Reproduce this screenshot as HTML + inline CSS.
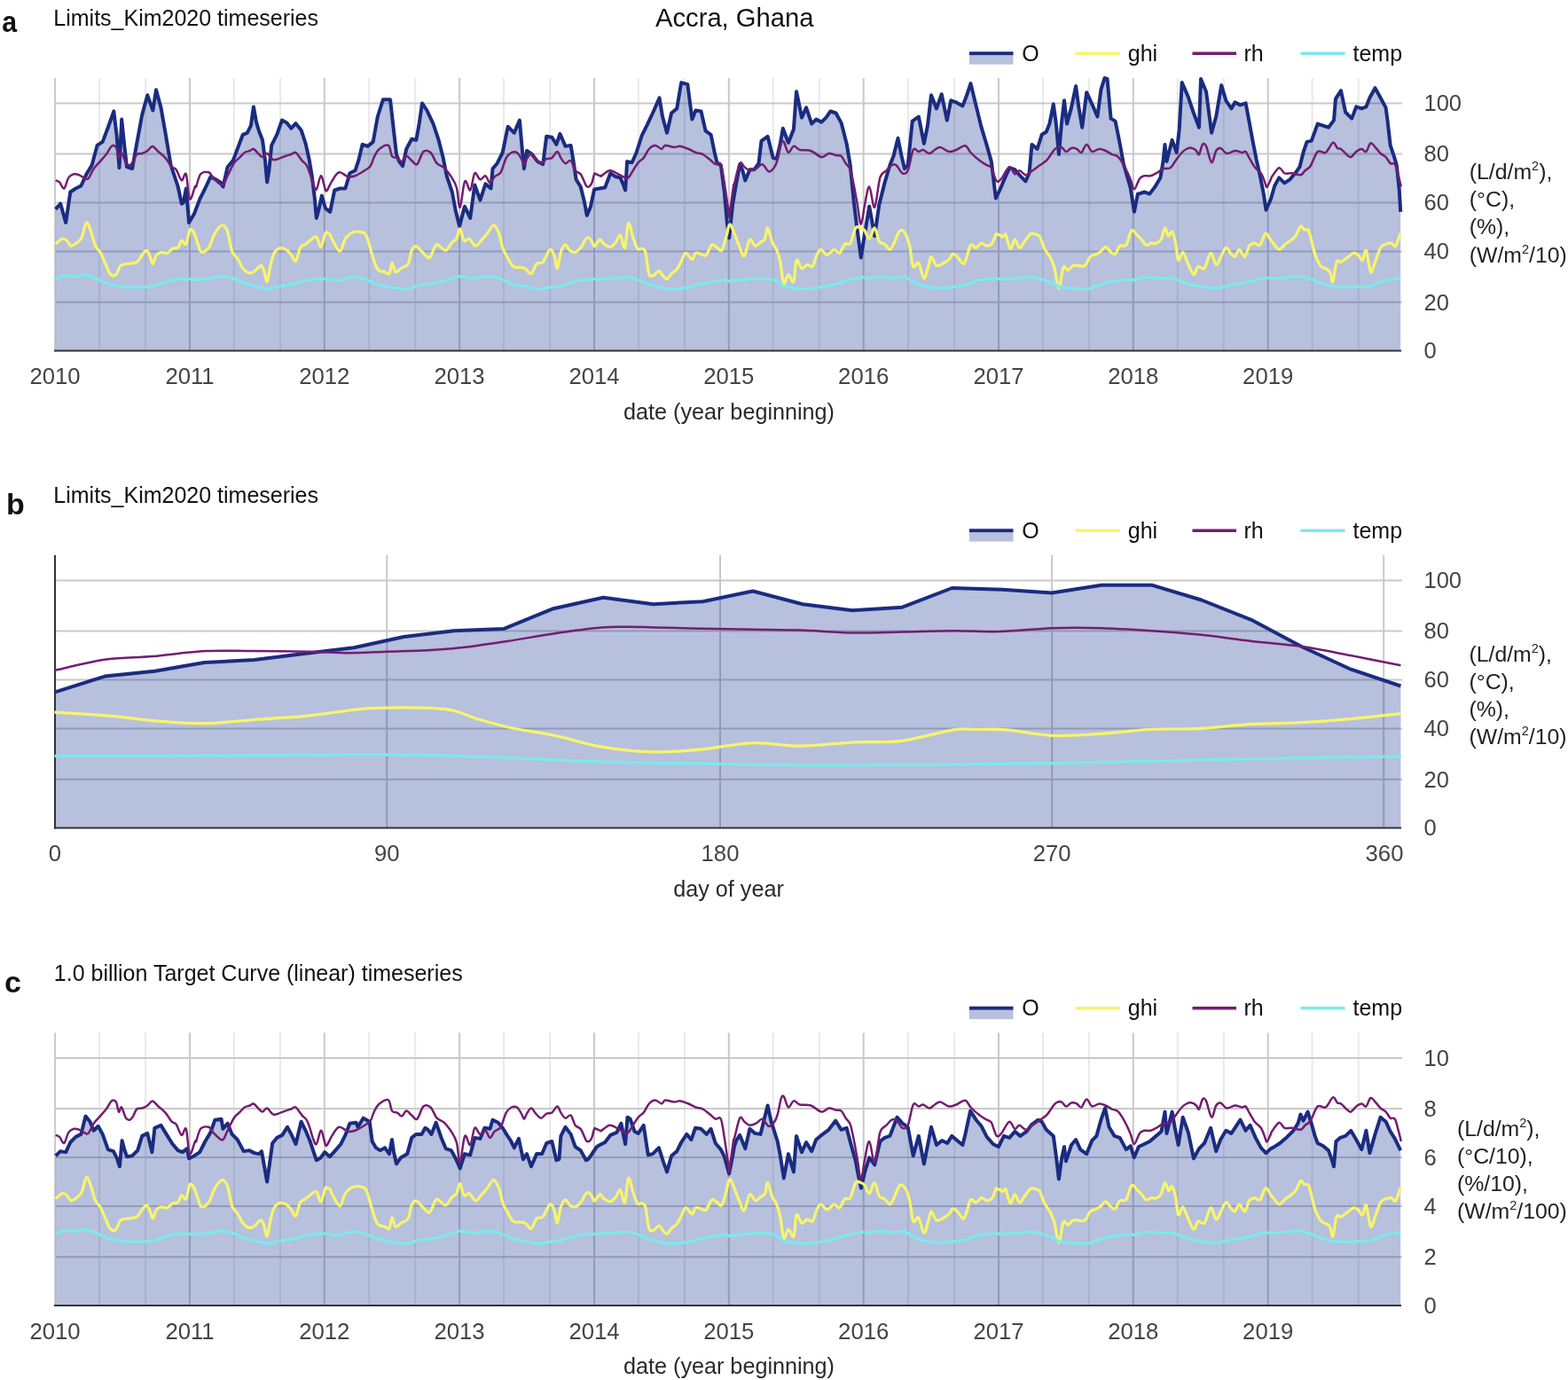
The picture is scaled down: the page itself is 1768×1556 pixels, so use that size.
<!DOCTYPE html>
<html><head><meta charset="utf-8"><title>Accra, Ghana</title>
<style>html,body{margin:0;padding:0;background:#fff;} svg text{font-family:"Liberation Sans", Arial, sans-serif;}</style>
</head><body>
<svg width="1768" height="1556" viewBox="0 0 1768 1556" style="display:block">
<rect width="1768" height="1556" fill="#fff"/>
<text transform="translate(2.3,35.9) scale(0.89,1)" font-size="34" font-weight="bold" fill="#111">a</text>
<text x="60.3" y="29.2" font-size="25" text-anchor="start" fill="#111" font-weight="normal" >Limits_Kim2020 timeseries</text>
<text x="739" y="30" font-size="29.2" text-anchor="start" fill="#111" font-weight="normal" >Accra, Ghana</text>
<rect x="1093" y="62.4" width="49.5" height="10.2" fill="rgb(18,45,140)" fill-opacity="0.3"/>
<line x1="1093" y1="60.3" x2="1142.5" y2="60.3" stroke="#1a2c80" stroke-width="4"/>
<text x="1152.2" y="68.6" font-size="25" text-anchor="start" fill="#111" font-weight="normal" >O</text>
<line x1="1212.5" y1="60.3" x2="1262.5" y2="60.3" stroke="#f7f46c" stroke-width="3.5"/>
<text x="1271.8" y="68.6" font-size="25" text-anchor="start" fill="#111" font-weight="normal" >ghi</text>
<line x1="1344.5" y1="60.3" x2="1394" y2="60.3" stroke="#731d70" stroke-width="3.5"/>
<text x="1402.5" y="68.6" font-size="25" text-anchor="start" fill="#111" font-weight="normal" >rh</text>
<line x1="1466.5" y1="60.3" x2="1516.5" y2="60.3" stroke="#7ce9ee" stroke-width="3.5"/>
<text x="1525.5" y="68.6" font-size="25" text-anchor="start" fill="#111" font-weight="normal" >temp</text>
<line x1="62.1" y1="88" x2="62.1" y2="395.4" stroke="#c9c9c9" stroke-width="2"/>
<line x1="112.0" y1="88" x2="112.0" y2="395.4" stroke="#e9e9e9" stroke-width="2"/>
<line x1="164.1" y1="88" x2="164.1" y2="395.4" stroke="#e9e9e9" stroke-width="2"/>
<line x1="214.0" y1="88" x2="214.0" y2="395.4" stroke="#c9c9c9" stroke-width="2"/>
<line x1="263.9" y1="88" x2="263.9" y2="395.4" stroke="#e9e9e9" stroke-width="2"/>
<line x1="316.0" y1="88" x2="316.0" y2="395.4" stroke="#e9e9e9" stroke-width="2"/>
<line x1="365.8" y1="88" x2="365.8" y2="395.4" stroke="#c9c9c9" stroke-width="2"/>
<line x1="416.2" y1="88" x2="416.2" y2="395.4" stroke="#e9e9e9" stroke-width="2"/>
<line x1="468.2" y1="88" x2="468.2" y2="395.4" stroke="#e9e9e9" stroke-width="2"/>
<line x1="518.1" y1="88" x2="518.1" y2="395.4" stroke="#c9c9c9" stroke-width="2"/>
<line x1="568.0" y1="88" x2="568.0" y2="395.4" stroke="#e9e9e9" stroke-width="2"/>
<line x1="620.1" y1="88" x2="620.1" y2="395.4" stroke="#e9e9e9" stroke-width="2"/>
<line x1="670.0" y1="88" x2="670.0" y2="395.4" stroke="#c9c9c9" stroke-width="2"/>
<line x1="719.9" y1="88" x2="719.9" y2="395.4" stroke="#e9e9e9" stroke-width="2"/>
<line x1="772.0" y1="88" x2="772.0" y2="395.4" stroke="#e9e9e9" stroke-width="2"/>
<line x1="821.8" y1="88" x2="821.8" y2="395.4" stroke="#c9c9c9" stroke-width="2"/>
<line x1="871.8" y1="88" x2="871.8" y2="395.4" stroke="#e9e9e9" stroke-width="2"/>
<line x1="923.8" y1="88" x2="923.8" y2="395.4" stroke="#e9e9e9" stroke-width="2"/>
<line x1="973.7" y1="88" x2="973.7" y2="395.4" stroke="#c9c9c9" stroke-width="2"/>
<line x1="1024.0" y1="88" x2="1024.0" y2="395.4" stroke="#e9e9e9" stroke-width="2"/>
<line x1="1076.1" y1="88" x2="1076.1" y2="395.4" stroke="#e9e9e9" stroke-width="2"/>
<line x1="1126.0" y1="88" x2="1126.0" y2="395.4" stroke="#c9c9c9" stroke-width="2"/>
<line x1="1175.9" y1="88" x2="1175.9" y2="395.4" stroke="#e9e9e9" stroke-width="2"/>
<line x1="1228.0" y1="88" x2="1228.0" y2="395.4" stroke="#e9e9e9" stroke-width="2"/>
<line x1="1277.8" y1="88" x2="1277.8" y2="395.4" stroke="#c9c9c9" stroke-width="2"/>
<line x1="1327.8" y1="88" x2="1327.8" y2="395.4" stroke="#e9e9e9" stroke-width="2"/>
<line x1="1379.8" y1="88" x2="1379.8" y2="395.4" stroke="#e9e9e9" stroke-width="2"/>
<line x1="1429.7" y1="88" x2="1429.7" y2="395.4" stroke="#c9c9c9" stroke-width="2"/>
<line x1="1479.6" y1="88" x2="1479.6" y2="395.4" stroke="#e9e9e9" stroke-width="2"/>
<line x1="1531.7" y1="88" x2="1531.7" y2="395.4" stroke="#e9e9e9" stroke-width="2"/>
<line x1="62.0" y1="340.8" x2="1581" y2="340.8" stroke="#c9c9c9" stroke-width="2"/>
<line x1="62.0" y1="283.4" x2="1581" y2="283.4" stroke="#c9c9c9" stroke-width="2"/>
<line x1="62.0" y1="228.6" x2="1581" y2="228.6" stroke="#c9c9c9" stroke-width="2"/>
<line x1="62.0" y1="173.6" x2="1581" y2="173.6" stroke="#c9c9c9" stroke-width="2"/>
<line x1="62.0" y1="116.5" x2="1581" y2="116.5" stroke="#c9c9c9" stroke-width="2"/>
<path d="M62.7,235.8 L68.2,229.7 L74.2,251.0 L79.3,216.5 L85.4,212.5 L91.4,209.5 L97.5,196.3 L103.6,186.2 L109.6,163.9 L115.7,159.9 L121.8,143.7 L128.3,125.5 L131.5,151.8 L134.5,189.2 L137.2,134.6 L140.0,161.9 L143.0,188.2 L149.1,190.2 L154.2,161.9 L160.2,129.5 L166.3,107.3 L172.4,124.5 L176.0,101.2 L181.5,121.4 L186.5,149.8 L192.6,186.2 L196.7,198.3 L200.7,210.5 L204.8,229.7 L206.8,228.7 L209.8,212.5 L213.1,251.0 L219.1,240.8 L225.2,224.6 L231.3,212.5 L237.4,199.3 L243.4,202.4 L248.5,205.4 L251.5,210.5 L256.6,188.2 L262.7,181.1 L267.7,168.0 L273.8,151.8 L278.8,149.8 L282.9,141.7 L285.9,120.4 L289.0,137.6 L292.0,147.7 L296.0,157.9 L299.1,182.1 L301.1,205.4 L303.1,194.3 L306.2,163.9 L312.2,151.8 L317.9,135.6 L323.4,138.6 L328.4,144.7 L333.5,139.2 L339.6,146.7 L344.6,161.9 L348.7,180.1 L351.7,198.3 L354.7,222.6 L356.8,245.9 L359.8,234.8 L362.8,220.6 L366.9,234.8 L372.2,238.8 L377.2,214.5 L383.3,212.5 L389.4,212.5 L394.4,195.3 L400.5,192.3 L404.5,180.1 L408.6,162.9 L414.7,164.9 L420.7,159.9 L425.8,131.5 L431.9,112.3 L440.0,112.3 L444.0,147.7 L447.0,174.0 L450.1,182.1 L454.1,187.2 L458.2,168.0 L464.2,156.8 L469.3,157.9 L472.3,141.7 L476.0,116.4 L481.4,124.5 L488.5,139.6 L494.6,157.9 L499.7,178.1 L503.7,198.3 L509.8,216.5 L514.0,238.8 L518.1,255.0 L523.9,232.7 L530.2,245.9 L535.3,208.5 L541.4,225.7 L547.4,207.4 L553.5,212.5 L555.5,190.2 L560.6,184.2 L566.7,172.0 L572.7,142.7 L579.8,149.8 L585.9,135.6 L588.9,170.0 L590.9,190.2 L594.0,170.0 L600.0,174.0 L606.1,182.1 L612.2,185.2 L616.2,153.8 L622.3,154.8 L627.4,162.9 L631.4,150.8 L637.5,164.9 L643.6,163.9 L646.6,182.1 L649.6,202.4 L654.7,210.5 L658.7,226.7 L661.8,242.9 L666.0,232.7 L670.1,213.5 L675.9,212.5 L682.2,211.5 L688.3,195.3 L694.4,199.3 L699.4,200.4 L702.5,207.4 L705.1,214.5 L707.1,182.1 L712.6,183.2 L717.6,172.0 L723.7,152.8 L729.8,140.7 L736.9,125.5 L743.5,110.3 L747.0,131.5 L752.0,149.8 L757.1,127.5 L763.2,122.4 L768.2,93.1 L775.3,95.1 L780.4,134.6 L784.4,124.5 L790.5,125.5 L795.6,147.7 L801.6,151.8 L805.7,172.0 L808.7,184.2 L812.8,186.2 L816.8,216.5 L819.8,251.0 L822.1,268.2 L826.1,230.7 L830.2,206.4 L834.2,185.2 L837.3,192.3 L840.3,203.4 L845.4,191.2 L850.4,191.2 L855.5,184.2 L858.5,158.9 L865.6,153.8 L871.7,178.1 L875.7,179.1 L879.8,161.9 L882.8,144.7 L885.8,152.8 L888.9,160.9 L894.9,145.7 L898.0,103.2 L901.0,117.4 L904.0,132.6 L909.1,121.4 L915.2,139.6 L920.2,134.6 L926.3,137.6 L931.4,132.6 L936.4,125.5 L942.5,127.5 L948.6,138.6 L954.6,161.9 L958.7,186.2 L962.7,226.7 L965.8,253.0 L970.8,290.4 L975.1,263.1 L980.2,232.7 L986.2,266.1 L991.3,230.7 L997.4,206.4 L1003.4,186.2 L1007.5,176.1 L1012.5,155.8 L1016.6,176.1 L1020.0,190.2 L1023.7,186.2 L1028.7,136.6 L1035.8,131.5 L1041.9,161.9 L1045.9,141.7 L1050.0,107.3 L1056.0,122.4 L1061.7,106.2 L1067.8,135.6 L1072.2,113.3 L1078.3,115.4 L1085.4,119.4 L1089.4,109.3 L1094.5,94.1 L1100.6,119.4 L1106.6,143.7 L1112.7,163.9 L1117.8,182.1 L1122.8,223.6 L1128.1,212.5 L1133.2,200.4 L1138.2,189.2 L1144.3,191.2 L1149.4,197.3 L1156.4,204.4 L1160.5,195.3 L1163.5,162.9 L1169.6,168.0 L1174.7,151.8 L1179.7,148.8 L1183.4,139.6 L1187.8,117.4 L1190.8,139.6 L1193.9,174.0 L1196.9,139.6 L1200.0,113.3 L1203.0,139.6 L1208.0,121.4 L1213.1,97.1 L1216.1,119.4 L1220.2,143.7 L1225.2,104.2 L1231.3,117.4 L1237.4,131.5 L1241.4,101.2 L1245.5,88.0 L1248.5,89.0 L1252.6,133.6 L1257.6,136.6 L1262.7,161.9 L1266.7,184.2 L1270.8,198.3 L1274.8,212.5 L1278.9,238.8 L1282.9,218.6 L1284.2,218.6 L1290.2,216.5 L1296.3,218.6 L1302.4,210.5 L1308.4,200.4 L1311.5,182.1 L1313.5,162.9 L1315.5,182.1 L1321.6,157.9 L1326.7,172.0 L1329.7,145.7 L1332.7,93.1 L1339.8,109.3 L1345.9,127.5 L1352.0,143.7 L1354.0,89.0 L1360.0,103.2 L1366.1,149.8 L1371.2,131.5 L1377.2,96.1 L1382.3,113.3 L1388.4,122.4 L1392.4,115.4 L1398.5,118.4 L1404.6,116.4 L1408.6,137.6 L1412.7,159.9 L1416.7,180.1 L1420.8,198.3 L1424.8,218.6 L1427.5,236.8 L1432.9,224.6 L1437.2,209.5 L1442.2,200.4 L1448.3,206.4 L1454.4,202.4 L1460.4,195.3 L1465.5,188.2 L1469.5,172.0 L1473.6,159.9 L1478.7,158.9 L1485.7,139.6 L1491.8,141.7 L1497.9,143.7 L1504.0,135.6 L1506.0,111.3 L1512.0,102.2 L1517.1,126.5 L1524.2,133.6 L1529.2,120.4 L1535.3,122.4 L1540.4,120.4 L1544.4,110.3 L1550.5,99.2 L1556.6,110.3 L1562.6,121.4 L1564.7,137.6 L1567.7,163.9 L1571.8,176.1 L1574.8,186.2 L1577.8,214.5 L1579.2,238.8 L1579.2,395.4 L62.7,395.4 Z" fill="rgb(18,45,140)" fill-opacity="0.3"/>
<line x1="61.0" y1="395.4" x2="1580.0" y2="395.4" stroke="#333333" stroke-width="2"/>
<path d="M62.7,235.8 L68.2,229.7 L74.2,251.0 L79.3,216.5 L85.4,212.5 L91.4,209.5 L97.5,196.3 L103.6,186.2 L109.6,163.9 L115.7,159.9 L121.8,143.7 L128.3,125.5 L131.5,151.8 L134.5,189.2 L137.2,134.6 L140.0,161.9 L143.0,188.2 L149.1,190.2 L154.2,161.9 L160.2,129.5 L166.3,107.3 L172.4,124.5 L176.0,101.2 L181.5,121.4 L186.5,149.8 L192.6,186.2 L196.7,198.3 L200.7,210.5 L204.8,229.7 L206.8,228.7 L209.8,212.5 L213.1,251.0 L219.1,240.8 L225.2,224.6 L231.3,212.5 L237.4,199.3 L243.4,202.4 L248.5,205.4 L251.5,210.5 L256.6,188.2 L262.7,181.1 L267.7,168.0 L273.8,151.8 L278.8,149.8 L282.9,141.7 L285.9,120.4 L289.0,137.6 L292.0,147.7 L296.0,157.9 L299.1,182.1 L301.1,205.4 L303.1,194.3 L306.2,163.9 L312.2,151.8 L317.9,135.6 L323.4,138.6 L328.4,144.7 L333.5,139.2 L339.6,146.7 L344.6,161.9 L348.7,180.1 L351.7,198.3 L354.7,222.6 L356.8,245.9 L359.8,234.8 L362.8,220.6 L366.9,234.8 L372.2,238.8 L377.2,214.5 L383.3,212.5 L389.4,212.5 L394.4,195.3 L400.5,192.3 L404.5,180.1 L408.6,162.9 L414.7,164.9 L420.7,159.9 L425.8,131.5 L431.9,112.3 L440.0,112.3 L444.0,147.7 L447.0,174.0 L450.1,182.1 L454.1,187.2 L458.2,168.0 L464.2,156.8 L469.3,157.9 L472.3,141.7 L476.0,116.4 L481.4,124.5 L488.5,139.6 L494.6,157.9 L499.7,178.1 L503.7,198.3 L509.8,216.5 L514.0,238.8 L518.1,255.0 L523.9,232.7 L530.2,245.9 L535.3,208.5 L541.4,225.7 L547.4,207.4 L553.5,212.5 L555.5,190.2 L560.6,184.2 L566.7,172.0 L572.7,142.7 L579.8,149.8 L585.9,135.6 L588.9,170.0 L590.9,190.2 L594.0,170.0 L600.0,174.0 L606.1,182.1 L612.2,185.2 L616.2,153.8 L622.3,154.8 L627.4,162.9 L631.4,150.8 L637.5,164.9 L643.6,163.9 L646.6,182.1 L649.6,202.4 L654.7,210.5 L658.7,226.7 L661.8,242.9 L666.0,232.7 L670.1,213.5 L675.9,212.5 L682.2,211.5 L688.3,195.3 L694.4,199.3 L699.4,200.4 L702.5,207.4 L705.1,214.5 L707.1,182.1 L712.6,183.2 L717.6,172.0 L723.7,152.8 L729.8,140.7 L736.9,125.5 L743.5,110.3 L747.0,131.5 L752.0,149.8 L757.1,127.5 L763.2,122.4 L768.2,93.1 L775.3,95.1 L780.4,134.6 L784.4,124.5 L790.5,125.5 L795.6,147.7 L801.6,151.8 L805.7,172.0 L808.7,184.2 L812.8,186.2 L816.8,216.5 L819.8,251.0 L822.1,268.2 L826.1,230.7 L830.2,206.4 L834.2,185.2 L837.3,192.3 L840.3,203.4 L845.4,191.2 L850.4,191.2 L855.5,184.2 L858.5,158.9 L865.6,153.8 L871.7,178.1 L875.7,179.1 L879.8,161.9 L882.8,144.7 L885.8,152.8 L888.9,160.9 L894.9,145.7 L898.0,103.2 L901.0,117.4 L904.0,132.6 L909.1,121.4 L915.2,139.6 L920.2,134.6 L926.3,137.6 L931.4,132.6 L936.4,125.5 L942.5,127.5 L948.6,138.6 L954.6,161.9 L958.7,186.2 L962.7,226.7 L965.8,253.0 L970.8,290.4 L975.1,263.1 L980.2,232.7 L986.2,266.1 L991.3,230.7 L997.4,206.4 L1003.4,186.2 L1007.5,176.1 L1012.5,155.8 L1016.6,176.1 L1020.0,190.2 L1023.7,186.2 L1028.7,136.6 L1035.8,131.5 L1041.9,161.9 L1045.9,141.7 L1050.0,107.3 L1056.0,122.4 L1061.7,106.2 L1067.8,135.6 L1072.2,113.3 L1078.3,115.4 L1085.4,119.4 L1089.4,109.3 L1094.5,94.1 L1100.6,119.4 L1106.6,143.7 L1112.7,163.9 L1117.8,182.1 L1122.8,223.6 L1128.1,212.5 L1133.2,200.4 L1138.2,189.2 L1144.3,191.2 L1149.4,197.3 L1156.4,204.4 L1160.5,195.3 L1163.5,162.9 L1169.6,168.0 L1174.7,151.8 L1179.7,148.8 L1183.4,139.6 L1187.8,117.4 L1190.8,139.6 L1193.9,174.0 L1196.9,139.6 L1200.0,113.3 L1203.0,139.6 L1208.0,121.4 L1213.1,97.1 L1216.1,119.4 L1220.2,143.7 L1225.2,104.2 L1231.3,117.4 L1237.4,131.5 L1241.4,101.2 L1245.5,88.0 L1248.5,89.0 L1252.6,133.6 L1257.6,136.6 L1262.7,161.9 L1266.7,184.2 L1270.8,198.3 L1274.8,212.5 L1278.9,238.8 L1282.9,218.6 L1284.2,218.6 L1290.2,216.5 L1296.3,218.6 L1302.4,210.5 L1308.4,200.4 L1311.5,182.1 L1313.5,162.9 L1315.5,182.1 L1321.6,157.9 L1326.7,172.0 L1329.7,145.7 L1332.7,93.1 L1339.8,109.3 L1345.9,127.5 L1352.0,143.7 L1354.0,89.0 L1360.0,103.2 L1366.1,149.8 L1371.2,131.5 L1377.2,96.1 L1382.3,113.3 L1388.4,122.4 L1392.4,115.4 L1398.5,118.4 L1404.6,116.4 L1408.6,137.6 L1412.7,159.9 L1416.7,180.1 L1420.8,198.3 L1424.8,218.6 L1427.5,236.8 L1432.9,224.6 L1437.2,209.5 L1442.2,200.4 L1448.3,206.4 L1454.4,202.4 L1460.4,195.3 L1465.5,188.2 L1469.5,172.0 L1473.6,159.9 L1478.7,158.9 L1485.7,139.6 L1491.8,141.7 L1497.9,143.7 L1504.0,135.6 L1506.0,111.3 L1512.0,102.2 L1517.1,126.5 L1524.2,133.6 L1529.2,120.4 L1535.3,122.4 L1540.4,120.4 L1544.4,110.3 L1550.5,99.2 L1556.6,110.3 L1562.6,121.4 L1564.7,137.6 L1567.7,163.9 L1571.8,176.1 L1574.8,186.2 L1577.8,214.5 L1579.2,238.8" fill="none" stroke="#1a2c80" stroke-width="4" stroke-linejoin="round"/>
<path d="M62.7,275.2 C63.9,274.2 68.1,269.8 70.2,269.2 C72.3,268.5 73.6,269.8 75.2,271.2 C76.9,272.5 78.3,276.9 80.3,277.3 C82.3,277.6 85.4,274.9 87.4,273.2 C89.4,271.5 90.8,270.9 92.4,267.1 C94.1,263.4 95.8,252.0 97.5,251.0 C99.2,249.9 100.9,256.7 102.6,261.1 C104.2,265.5 105.8,273.2 107.6,277.3 C109.5,281.3 111.7,281.6 113.7,285.4 C115.7,289.1 117.9,295.5 119.8,299.5 C121.6,303.6 123.0,308.0 124.8,309.6 C126.7,311.3 129.0,311.3 130.9,309.6 C132.7,308.0 133.8,301.5 136.0,299.5 C138.1,297.5 141.0,298.2 144.0,297.5 C147.1,296.8 151.5,297.2 154.2,295.5 C156.9,293.8 158.4,289.6 160.2,287.4 C162.1,285.2 163.8,282.0 165.3,282.3 C166.8,282.7 168.2,286.9 169.3,289.4 C170.5,291.9 171.2,297.8 172.4,297.5 C173.6,297.2 174.7,289.6 176.4,287.4 C178.1,285.2 180.5,284.7 182.5,284.3 C184.5,284.0 186.5,286.0 188.6,285.4 C190.6,284.7 192.6,281.3 194.6,280.3 C196.7,279.3 199.0,280.8 200.7,279.3 C202.4,277.8 203.2,271.9 204.8,271.2 C206.3,270.5 208.3,277.3 209.8,275.2 C211.4,273.2 212.6,261.1 214.1,259.0 C215.6,257.0 217.4,260.4 218.9,263.1 C220.4,265.8 221.8,271.7 223.2,275.2 C224.6,278.8 225.2,283.7 227.2,284.3 C229.3,285.0 233.0,282.5 235.3,279.3 C237.7,276.1 239.5,268.8 241.4,265.1 C243.3,261.4 244.8,258.9 246.5,257.0 C248.2,255.2 249.8,253.3 251.5,254.0 C253.2,254.7 254.9,256.2 256.6,261.1 C258.3,266.0 259.8,278.3 261.6,283.3 C263.5,288.4 265.7,288.2 267.7,291.4 C269.7,294.6 271.8,299.9 273.8,302.6 C275.8,305.3 277.8,306.9 279.9,307.6 C281.9,308.3 283.6,308.0 285.9,306.6 C288.3,305.3 292.1,299.7 294.0,299.5 C296.0,299.4 296.5,302.6 297.7,305.6 C298.8,308.6 300.0,318.1 301.1,317.7 C302.2,317.4 303.0,308.6 304.1,303.6 C305.3,298.5 306.5,291.3 308.2,287.4 C309.9,283.5 311.9,281.3 314.3,280.3 C316.6,279.3 320.0,280.1 322.4,281.3 C324.7,282.5 326.6,285.2 328.4,287.4 C330.3,289.6 331.8,295.8 333.5,294.5 C335.2,293.1 336.7,282.5 338.5,279.3 C340.4,276.1 342.6,276.8 344.6,275.2 C346.6,273.7 348.7,271.5 350.7,270.2 C352.7,268.8 354.9,265.8 356.8,267.1 C358.6,268.5 360.1,278.9 361.8,278.3 C363.5,277.6 365.7,265.6 366.9,263.1 C368.1,260.6 368.3,262.9 369.1,263.1 C370.0,263.3 370.9,262.8 371.9,264.1 C373.0,265.5 373.3,268.0 375.2,271.2 C377.1,274.4 380.9,283.7 383.3,283.3 C385.6,283.0 387.0,272.7 389.4,269.2 C391.7,265.6 394.2,263.3 397.5,262.1 C400.7,260.9 405.9,261.2 408.6,262.1 C411.3,262.9 411.8,262.9 413.6,267.1 C415.5,271.4 417.7,281.3 419.7,287.4 C421.7,293.5 423.4,300.4 425.8,303.6 C428.1,306.8 431.7,305.8 433.9,306.6 C436.1,307.5 437.6,310.3 438.9,308.6 C440.3,306.9 440.8,296.8 442.0,296.5 C443.2,296.2 444.3,305.6 446.0,306.6 C447.7,307.6 449.7,304.1 452.1,302.6 C454.5,301.0 458.2,300.9 460.2,297.5 C462.2,294.1 462.7,285.7 464.2,282.3 C465.8,278.9 467.6,277.3 469.3,277.3 C471.0,277.3 472.8,280.8 474.4,282.3 C475.9,283.8 476.7,285.0 478.4,286.4 C480.1,287.7 482.3,292.1 484.5,290.4 C486.7,288.7 489.5,278.3 491.6,276.2 C493.6,274.2 494.8,277.3 496.6,278.3 C498.5,279.3 500.5,283.2 502.7,282.3 C504.9,281.5 507.8,275.4 509.8,273.2 C511.8,271.0 513.3,271.7 514.8,269.2 C516.3,266.6 517.3,257.7 518.7,258.0 C520.1,258.4 521.4,269.3 523.1,271.2 C524.9,273.0 527.0,268.2 529.2,269.2 C531.4,270.2 533.9,277.1 536.3,277.3 C538.7,277.4 541.2,272.5 543.4,270.2 C545.6,267.8 547.3,265.8 549.5,263.1 C551.6,260.4 554.3,254.0 556.5,254.0 C558.7,254.0 560.9,258.9 562.6,263.1 C564.3,267.3 565.1,274.9 566.7,279.3 C568.2,283.7 569.7,285.9 571.7,289.4 C573.7,292.9 576.4,298.5 578.8,300.5 C581.2,302.6 583.7,301.2 585.9,301.5 C588.1,301.9 589.8,301.4 592.0,302.6 C594.1,303.7 596.8,309.5 599.0,308.6 C601.2,307.8 602.9,299.7 605.1,297.5 C607.3,295.3 609.7,298.2 612.2,295.5 C614.7,292.8 618.1,282.3 620.3,281.3 C622.5,280.3 624.0,285.9 625.3,289.4 C626.7,292.9 627.2,303.4 628.4,302.6 C629.6,301.7 630.9,288.7 632.4,284.3 C633.9,280.0 635.8,276.6 637.5,276.2 C639.2,275.9 640.7,281.0 642.5,282.3 C644.4,283.7 646.6,284.9 648.6,284.3 C650.6,283.8 652.5,282.0 654.7,279.3 C656.9,276.6 659.8,269.5 661.8,268.2 C663.8,266.8 665.6,269.8 666.8,271.2 C668.0,272.5 668.4,275.2 669.1,276.2 C669.7,277.3 669.9,278.1 670.9,277.3 C671.9,276.4 674.1,272.4 675.1,271.2 C676.2,270.0 675.9,269.5 677.0,270.2 C678.0,270.9 679.3,273.9 681.2,275.2 C683.1,276.6 686.1,278.6 688.3,278.3 C690.5,277.9 692.5,275.4 694.4,273.2 C696.2,271.0 697.7,264.1 699.4,265.1 C701.1,266.1 703.0,281.5 704.5,279.3 C706.0,277.1 707.0,254.0 708.5,252.0 C710.1,249.9 711.9,262.4 713.6,267.1 C715.3,271.9 717.0,278.1 718.7,280.3 C720.3,282.5 722.2,279.6 723.7,280.3 C725.2,281.0 726.4,279.6 727.8,284.3 C729.1,289.1 730.3,304.2 731.8,308.6 C733.3,313.0 735.0,311.2 736.9,310.7 C738.7,310.1 741.1,305.4 742.9,305.6 C744.8,305.8 746.5,310.1 748.0,311.7 C749.5,313.2 750.5,315.2 752.0,314.7 C753.6,314.2 755.3,310.5 757.1,308.6 C759.0,306.8 761.3,305.9 763.2,303.6 C765.0,301.2 766.6,297.5 768.2,294.5 C769.9,291.4 771.3,285.7 773.3,285.4 C775.3,285.0 778.5,292.4 780.4,292.4 C782.2,292.4 782.4,286.2 784.4,285.4 C786.5,284.5 790.5,287.0 792.5,287.4 C794.5,287.7 794.9,289.2 796.6,287.4 C798.3,285.5 800.6,277.6 802.6,276.2 C804.7,274.9 806.9,278.3 808.7,279.3 C810.6,280.3 812.1,284.3 813.8,282.3 C815.5,280.3 817.3,272.0 818.8,267.1 C820.3,262.3 821.2,253.7 822.7,253.0 C824.2,252.3 826.0,258.7 827.9,263.1 C829.9,267.5 832.3,275.1 834.2,279.3 C836.1,283.5 837.4,289.9 839.3,288.4 C841.1,286.9 843.3,272.0 845.4,270.2 C847.4,268.3 849.4,276.8 851.4,277.3 C853.5,277.8 855.6,274.6 857.5,273.2 C859.4,271.9 861.2,271.9 862.6,269.2 C863.9,266.5 864.2,256.3 865.6,257.0 C866.9,257.7 869.0,269.2 870.7,273.2 C872.3,277.3 874.2,277.6 875.7,281.3 C877.2,285.0 878.4,289.1 879.8,295.5 C881.1,301.9 882.3,317.4 883.8,319.8 C885.3,322.1 887.0,310.0 888.9,309.6 C890.7,309.3 893.4,320.4 894.9,317.7 C896.5,315.0 896.5,296.0 898.0,293.5 C899.5,290.9 902.0,301.7 904.0,302.6 C906.1,303.4 908.1,298.8 910.1,298.5 C912.1,298.2 914.5,302.1 916.2,300.5 C917.9,299.0 918.7,292.6 920.2,289.4 C921.8,286.2 923.3,281.6 925.3,281.3 C927.3,281.0 929.9,287.4 932.4,287.4 C934.9,287.4 938.1,281.6 940.5,281.3 C942.8,281.0 944.5,286.4 946.5,285.4 C948.6,284.3 950.6,277.1 952.6,275.2 C954.6,273.4 956.7,277.3 958.7,274.2 C960.7,271.2 962.7,259.9 964.8,257.0 C966.8,254.2 969.1,256.5 970.8,257.0 C972.6,257.5 973.5,258.0 975.1,260.1 C976.6,262.1 978.3,269.7 980.2,269.2 C982.0,268.7 984.4,256.5 986.2,257.0 C988.1,257.5 989.4,269.2 991.3,272.2 C993.1,275.2 995.3,273.7 997.4,275.2 C999.4,276.8 1001.6,281.6 1003.4,281.3 C1005.3,281.0 1006.6,276.8 1008.5,273.2 C1010.3,269.7 1012.5,261.7 1014.6,260.1 C1016.6,258.4 1018.8,260.2 1020.6,263.1 C1022.5,266.0 1024.2,271.0 1025.7,277.3 C1027.2,283.5 1028.1,297.3 1029.7,300.5 C1031.4,303.7 1033.8,294.3 1035.8,296.5 C1037.8,298.7 1040.0,313.2 1041.9,313.7 C1043.7,314.2 1045.6,303.6 1046.9,299.5 C1048.3,295.5 1048.5,289.4 1050.0,289.4 C1051.5,289.4 1053.7,298.3 1056.0,299.5 C1058.4,300.7 1061.8,297.7 1064.1,296.5 C1066.5,295.3 1068.5,294.1 1070.2,292.4 C1071.9,290.8 1072.7,286.9 1074.3,286.4 C1075.8,285.9 1077.3,287.5 1079.3,289.4 C1081.3,291.3 1084.5,297.7 1086.4,297.5 C1088.3,297.3 1089.1,291.9 1090.5,288.4 C1091.8,284.9 1092.8,277.8 1094.5,276.2 C1096.2,274.7 1098.5,279.6 1100.6,279.3 C1102.6,278.9 1104.6,274.6 1106.6,274.2 C1108.7,273.9 1110.7,277.3 1112.7,277.3 C1114.7,277.3 1117.1,276.4 1118.8,274.2 C1120.5,272.0 1122.0,265.8 1122.8,264.1 C1123.7,262.4 1123.2,263.9 1124.1,264.1 C1124.9,264.3 1126.9,264.6 1127.9,265.1 C1128.9,265.6 1129.3,267.1 1130.1,267.1 C1131.0,267.1 1132.3,265.5 1133.0,265.1 C1133.6,264.8 1133.1,262.6 1134.2,265.1 C1135.2,267.6 1137.6,279.5 1139.2,280.3 C1140.9,281.1 1142.6,270.3 1144.3,270.2 C1146.0,270.0 1147.5,278.9 1149.4,279.3 C1151.2,279.6 1153.4,274.7 1155.4,272.2 C1157.5,269.7 1159.5,265.5 1161.5,264.1 C1163.5,262.8 1165.7,263.6 1167.6,264.1 C1169.4,264.6 1170.9,264.4 1172.6,267.1 C1174.3,269.8 1175.8,276.6 1177.7,280.3 C1179.5,284.0 1181.9,285.9 1183.8,289.4 C1185.6,292.9 1187.1,295.6 1188.8,301.5 C1190.5,307.5 1192.2,324.8 1193.9,324.8 C1195.6,324.8 1197.3,304.9 1198.9,301.5 C1200.6,298.2 1202.1,304.9 1204.0,304.6 C1205.9,304.2 1208.0,300.4 1210.1,299.5 C1212.1,298.7 1214.0,299.5 1216.1,299.5 C1218.3,299.5 1221.0,301.2 1223.2,299.5 C1225.4,297.8 1227.4,291.4 1229.3,289.4 C1231.2,287.4 1232.5,288.2 1234.4,287.4 C1236.2,286.5 1238.4,285.9 1240.4,284.3 C1242.5,282.8 1244.5,278.3 1246.5,278.3 C1248.5,278.3 1250.7,283.0 1252.6,284.3 C1254.4,285.7 1255.9,287.5 1257.6,286.4 C1259.3,285.2 1260.7,278.9 1262.7,277.3 C1264.7,275.6 1267.6,279.1 1269.8,276.2 C1272.0,273.4 1273.8,261.9 1275.8,260.1 C1277.9,258.2 1280.2,263.4 1282.1,265.1 C1284.0,266.8 1285.5,268.3 1287.2,270.2 C1288.9,272.0 1290.4,275.6 1292.2,276.2 C1294.1,276.9 1296.3,274.6 1298.3,274.2 C1300.3,273.9 1302.5,275.1 1304.4,274.2 C1306.2,273.4 1307.9,272.0 1309.5,269.2 C1311.0,266.3 1312.2,257.5 1313.5,257.0 C1314.8,256.5 1316.2,265.5 1317.5,266.1 C1318.9,266.8 1320.2,259.7 1321.6,261.1 C1322.9,262.4 1324.5,268.8 1325.6,274.2 C1326.8,279.6 1327.3,291.8 1328.7,293.5 C1330.0,295.1 1332.1,284.0 1333.7,284.3 C1335.4,284.7 1336.8,291.3 1338.8,295.5 C1340.8,299.7 1343.9,308.8 1345.9,309.6 C1347.9,310.5 1348.9,301.7 1350.9,300.5 C1353.0,299.4 1355.7,305.1 1358.0,302.6 C1360.4,300.0 1362.9,286.0 1365.1,285.4 C1367.3,284.7 1369.3,297.7 1371.2,298.5 C1373.0,299.4 1374.4,293.6 1376.2,290.4 C1378.1,287.2 1380.5,280.1 1382.3,279.3 C1384.2,278.4 1385.7,283.7 1387.4,285.4 C1389.1,287.0 1390.7,290.1 1392.4,289.4 C1394.1,288.7 1395.6,281.3 1397.5,281.3 C1399.3,281.3 1401.7,290.1 1403.6,289.4 C1405.4,288.7 1406.8,279.8 1408.6,277.3 C1410.5,274.7 1412.7,274.4 1414.7,274.2 C1416.7,274.1 1418.7,278.1 1420.8,276.2 C1422.8,274.4 1425.0,263.9 1427.0,263.1 C1429.1,262.3 1431.8,269.5 1433.1,271.2 C1434.4,272.9 1433.4,271.5 1434.9,273.2 C1436.4,274.9 1439.8,281.0 1442.2,281.3 C1444.6,281.6 1446.9,277.1 1449.3,275.2 C1451.7,273.4 1454.4,271.9 1456.4,270.2 C1458.4,268.5 1459.8,267.6 1461.5,265.1 C1463.1,262.6 1465.0,256.0 1466.5,255.0 C1468.0,254.0 1469.0,258.2 1470.6,259.0 C1472.1,259.9 1474.1,257.4 1475.6,260.1 C1477.1,262.8 1478.3,270.3 1479.7,275.2 C1481.0,280.1 1482.0,285.2 1483.7,289.4 C1485.4,293.6 1487.8,298.2 1489.8,300.5 C1491.8,302.9 1494.2,302.4 1495.9,303.6 C1497.5,304.8 1498.7,305.3 1499.9,307.6 C1501.1,310.0 1501.8,319.8 1502.9,317.7 C1504.1,315.7 1505.5,299.2 1507.0,295.5 C1508.5,291.8 1510.0,296.3 1512.0,295.5 C1514.1,294.6 1516.8,292.1 1519.1,290.4 C1521.5,288.7 1524.2,285.9 1526.2,285.4 C1528.2,284.9 1529.6,286.0 1531.3,287.4 C1533.0,288.7 1534.8,294.3 1536.3,293.5 C1537.9,292.6 1538.9,280.1 1540.4,282.3 C1541.9,284.5 1543.8,304.4 1545.4,306.6 C1547.1,308.8 1548.6,300.0 1550.5,295.5 C1552.4,290.9 1554.5,282.7 1556.6,279.3 C1558.6,275.9 1560.6,276.1 1562.6,275.2 C1564.7,274.4 1566.9,273.9 1568.7,274.2 C1570.6,274.6 1572.1,279.1 1573.8,277.3 C1575.5,275.4 1578.0,265.5 1578.8,263.1" fill="none" stroke="#f7f46c" stroke-width="3.3" stroke-linejoin="round"/>
<path d="M62.7,203.4 C63.4,203.7 65.6,203.9 67.1,205.4 C68.7,206.9 70.5,213.3 72.2,212.5 C73.9,211.7 75.4,203.1 77.3,200.4 C79.1,197.7 81.3,196.8 83.3,196.3 C85.4,195.8 87.5,196.6 89.4,197.3 C91.3,198.0 92.8,199.7 94.5,200.4 C96.2,201.0 97.7,203.1 99.5,201.4 C101.4,199.7 103.2,193.6 105.6,190.2 C108.0,186.9 111.3,183.8 113.7,181.1 C116.1,178.4 117.7,176.7 119.8,174.0 C121.8,171.3 124.0,166.3 125.8,164.9 C127.7,163.6 129.5,163.9 130.9,166.0 C132.2,168.0 132.9,176.1 133.9,177.1 C134.9,178.1 135.6,170.8 137.0,172.0 C138.3,173.2 140.5,181.8 142.0,184.2 C143.5,186.5 144.7,186.5 146.1,186.2 C147.4,185.9 148.8,184.2 150.1,182.1 C151.5,180.1 152.5,175.6 154.2,174.0 C155.9,172.5 158.2,173.7 160.2,173.0 C162.3,172.4 164.4,171.3 166.3,170.0 C168.3,168.7 170.0,164.8 172.0,164.9 C174.0,165.1 176.0,168.8 178.5,171.0 C180.9,173.2 184.0,175.2 186.5,178.1 C189.1,181.0 191.6,186.0 193.6,188.2 C195.7,190.4 196.8,188.7 198.7,191.2 C200.5,193.8 202.9,202.5 204.8,203.4 C206.6,204.2 208.3,192.8 209.8,196.3 C211.3,199.9 212.2,222.3 213.9,224.6 C215.6,227.0 218.7,212.8 219.9,210.5 C221.2,208.1 220.1,212.8 221.2,210.5 C222.2,208.1 223.9,199.0 226.2,196.3 C228.6,193.6 233.0,193.6 235.3,194.3 C237.7,195.0 238.5,198.3 240.4,200.4 C242.2,202.4 244.6,205.1 246.5,206.4 C248.3,207.8 249.8,209.8 251.5,208.5 C253.2,207.1 254.6,202.4 256.6,198.3 C258.6,194.3 261.5,187.5 263.7,184.2 C265.9,180.8 267.7,180.1 269.7,178.1 C271.8,176.1 273.8,173.4 275.8,172.0 C277.8,170.7 280.2,170.7 281.9,170.0 C283.6,169.3 284.2,167.3 285.9,168.0 C287.6,168.7 290.3,172.5 292.0,174.0 C293.7,175.6 294.5,177.3 296.0,177.1 C297.6,176.9 299.1,172.5 301.1,173.0 C303.1,173.5 305.7,179.3 308.2,180.1 C310.7,181.0 313.6,178.9 316.3,178.1 C319.0,177.3 322.4,175.7 324.4,175.1 C326.4,174.4 326.9,174.6 328.4,174.0 C329.9,173.5 331.5,170.8 333.5,172.0 C335.5,173.2 338.5,178.8 340.6,181.1 C342.6,183.5 344.1,183.7 345.6,186.2 C347.1,188.7 348.5,192.9 349.7,196.3 C350.9,199.7 351.5,203.6 352.7,206.4 C353.9,209.3 355.2,214.9 356.8,213.5 C358.3,212.2 360.3,198.8 361.8,198.3 C363.3,197.8 365.0,207.8 365.9,210.5 C366.7,213.2 366.6,213.8 367.1,214.5 C367.6,215.2 367.7,216.2 368.9,214.5 C370.1,212.8 372.0,207.8 374.2,204.4 C376.4,201.0 379.2,195.1 382.3,194.3 C385.3,193.4 389.4,198.7 392.4,199.3 C395.4,200.0 397.6,199.3 400.5,198.3 C403.4,197.3 406.7,195.1 409.6,193.3 C412.5,191.4 415.7,189.9 417.7,187.2 C419.7,184.5 420.1,180.3 421.7,177.1 C423.4,173.9 425.1,170.2 427.8,168.0 C430.5,165.8 435.6,162.6 437.9,163.9 C440.3,165.3 440.3,173.7 442.0,176.1 C443.7,178.4 446.2,177.1 448.0,178.1 C449.9,179.1 451.4,182.5 453.1,182.1 C454.8,181.8 456.3,176.2 458.2,176.1 C460.0,175.9 462.2,179.6 464.2,181.1 C466.3,182.6 468.1,186.9 470.3,185.2 C472.5,183.5 474.9,173.2 477.4,171.0 C479.9,168.8 483.0,169.8 485.5,172.0 C488.0,174.2 490.0,181.3 492.6,184.2 C495.1,187.0 498.0,186.7 500.7,189.2 C503.4,191.8 506.4,195.6 508.8,199.3 C511.1,203.1 513.2,205.8 514.8,211.5 C516.5,217.2 517.1,234.9 518.7,233.8 C520.2,232.6 522.2,207.6 524.2,204.4 C526.1,201.2 528.4,216.0 530.2,214.5 C532.1,213.0 533.4,197.3 535.3,195.3 C537.1,193.3 539.3,201.9 541.4,202.4 C543.4,202.9 545.6,197.7 547.4,198.3 C549.3,199.0 550.8,206.3 552.5,206.4 C554.2,206.6 555.5,201.4 557.5,199.3 C559.6,197.3 562.4,197.8 564.6,194.3 C566.8,190.7 568.7,181.8 570.7,178.1 C572.7,174.4 574.8,173.0 576.8,172.0 C578.8,171.0 581.0,170.8 582.8,172.0 C584.7,173.2 586.6,176.9 587.9,179.1 C589.3,181.3 589.9,185.2 590.9,185.2 C592.0,185.2 592.6,181.1 594.0,179.1 C595.3,177.1 597.3,173.0 599.0,173.0 C600.7,173.0 602.2,177.3 604.1,179.1 C606.0,181.0 608.1,184.2 610.2,184.2 C612.2,184.2 614.2,180.1 616.2,179.1 C618.3,178.1 620.3,179.4 622.3,178.1 C624.3,176.7 626.7,171.0 628.4,171.0 C630.1,171.0 630.9,175.9 632.4,178.1 C633.9,180.3 635.6,183.7 637.5,184.2 C639.3,184.7 641.7,179.8 643.6,181.1 C645.4,182.5 646.8,189.7 648.6,192.3 C650.5,194.8 653.2,194.6 654.7,196.3 C656.2,198.0 656.5,200.0 657.7,202.4 C658.9,204.7 660.3,209.6 661.8,210.5 C663.3,211.3 665.4,209.8 666.8,207.4 C668.2,205.1 669.2,198.2 670.1,196.3 C670.9,194.5 670.7,196.0 671.9,196.3 C673.0,196.6 675.9,198.0 677.0,198.3 C678.0,198.7 676.5,199.3 678.2,198.3 C679.9,197.3 684.4,192.8 687.3,192.3 C690.2,191.8 692.5,193.9 695.4,195.3 C698.2,196.6 702.3,199.5 704.5,200.4 C706.7,201.2 706.7,202.2 708.5,200.4 C710.4,198.5 713.6,192.3 715.6,189.2 C717.6,186.2 719.0,184.0 720.7,182.1 C722.4,180.3 723.9,180.5 725.7,178.1 C727.6,175.7 729.6,170.3 731.8,168.0 C734.0,165.6 736.5,163.9 738.9,163.9 C741.3,163.9 744.1,168.0 746.0,168.0 C747.8,168.0 747.7,164.3 750.0,163.9 C752.4,163.6 757.3,165.8 760.1,166.0 C763.0,166.1 764.5,164.6 767.2,164.9 C769.9,165.3 773.5,166.8 776.3,168.0 C779.2,169.2 781.7,171.0 784.4,172.0 C787.1,173.0 789.8,172.7 792.5,174.0 C795.2,175.4 798.3,178.3 800.6,180.1 C803.0,182.0 804.7,184.3 806.7,185.2 C808.7,186.0 811.1,181.6 812.8,185.2 C814.4,188.7 815.3,197.2 816.8,206.4 C818.3,215.7 820.9,235.1 821.9,240.8 C822.8,246.6 821.8,245.9 822.7,240.8 C823.5,235.8 826.0,216.2 826.9,210.5 C827.8,204.7 826.9,210.8 828.2,206.4 C829.4,202.0 832.4,187.2 834.2,184.2 C836.1,181.1 837.4,186.9 839.3,188.2 C841.1,189.6 843.2,191.9 845.4,192.3 C847.5,192.6 850.1,191.4 852.4,190.2 C854.8,189.1 857.2,184.7 859.5,185.2 C861.9,185.7 864.4,192.6 866.6,193.3 C868.8,193.9 871.0,191.4 872.7,189.2 C874.4,187.0 875.4,184.7 876.7,180.1 C878.1,175.6 879.6,165.3 880.8,161.9 C882.0,158.5 882.5,158.2 883.8,159.9 C885.2,161.6 887.0,171.2 888.9,172.0 C890.7,172.9 892.7,165.4 894.9,164.9 C897.1,164.4 898.8,168.1 902.0,169.0 C905.2,169.8 910.1,168.7 914.2,170.0 C918.2,171.3 922.9,176.6 926.3,177.1 C929.7,177.6 931.7,173.4 934.4,173.0 C937.1,172.7 940.1,174.6 942.5,175.1 C944.9,175.6 946.7,174.6 948.6,176.1 C950.4,177.6 951.9,181.6 953.6,184.2 C955.3,186.7 957.2,187.2 958.7,191.2 C960.2,195.3 961.4,201.9 962.7,208.5 C964.1,215.0 965.4,223.3 966.8,230.7 C968.1,238.1 969.4,253.0 970.8,253.0 C972.2,253.0 973.5,237.8 975.1,230.7 C976.6,223.6 978.3,210.0 980.2,210.5 C982.0,211.0 984.2,235.4 986.2,233.8 C988.2,232.1 990.1,207.3 992.3,200.4 C994.5,193.4 997.2,194.6 999.4,192.3 C1001.6,189.9 1003.6,187.2 1005.5,186.2 C1007.3,185.2 1008.5,184.7 1010.5,186.2 C1012.5,187.7 1015.4,194.3 1017.6,195.3 C1019.8,196.3 1021.6,196.6 1023.7,192.3 C1025.7,187.9 1027.7,172.5 1029.7,169.0 C1031.8,165.4 1034.0,171.0 1035.8,171.0 C1037.7,171.0 1038.8,168.7 1040.9,169.0 C1042.9,169.3 1045.8,173.0 1048.0,173.0 C1050.1,173.0 1052.0,170.2 1054.0,169.0 C1056.0,167.8 1057.4,165.6 1060.1,166.0 C1062.8,166.3 1067.2,170.5 1070.2,171.0 C1073.2,171.5 1075.3,170.1 1078.3,169.0 C1081.3,167.9 1085.7,163.8 1088.4,164.3 C1091.1,164.8 1091.8,169.2 1094.5,172.0 C1097.2,174.8 1101.6,178.8 1104.6,181.1 C1107.7,183.5 1110.5,184.8 1112.7,186.2 C1114.9,187.5 1115.9,186.2 1117.8,189.2 C1119.6,192.3 1121.8,202.5 1123.8,204.4 C1125.9,206.3 1128.7,201.4 1129.9,200.4 C1131.1,199.3 1129.8,200.4 1131.1,198.3 C1132.5,196.3 1136.0,188.6 1138.2,188.2 C1140.4,187.9 1142.4,195.6 1144.3,196.3 C1146.2,197.0 1147.3,192.1 1149.4,192.3 C1151.4,192.4 1154.4,197.0 1156.4,197.3 C1158.5,197.7 1159.5,195.6 1161.5,194.3 C1163.5,192.9 1166.2,190.9 1168.6,189.2 C1170.9,187.5 1173.6,185.7 1175.7,184.2 C1177.7,182.6 1179.0,182.0 1180.7,180.1 C1182.4,178.3 1184.1,175.2 1185.8,173.0 C1187.5,170.8 1189.0,168.1 1190.8,167.0 C1192.7,165.8 1195.1,165.3 1196.9,166.0 C1198.8,166.6 1200.1,170.8 1202.0,171.0 C1203.8,171.2 1206.0,167.5 1208.0,167.0 C1210.1,166.5 1212.3,167.1 1214.1,168.0 C1216.0,168.8 1217.3,172.9 1219.2,172.0 C1221.0,171.2 1223.2,163.1 1225.2,162.9 C1227.3,162.7 1229.0,170.2 1231.3,171.0 C1233.7,171.9 1236.9,168.1 1239.4,168.0 C1241.9,167.8 1244.1,169.0 1246.5,170.0 C1248.9,171.0 1251.4,173.0 1253.6,174.0 C1255.8,175.1 1257.8,174.7 1259.7,176.1 C1261.5,177.4 1263.0,179.6 1264.7,182.1 C1266.4,184.7 1268.1,187.9 1269.8,191.2 C1271.5,194.6 1273.3,198.7 1274.8,202.4 C1276.4,206.1 1277.2,213.7 1278.9,213.5 C1280.6,213.3 1283.1,203.9 1285.0,201.4 C1286.8,198.8 1288.2,198.8 1290.2,198.3 C1292.3,197.8 1294.8,199.0 1297.3,198.3 C1299.8,197.7 1303.0,195.6 1305.4,194.3 C1307.8,192.9 1309.1,191.1 1311.5,190.2 C1313.8,189.4 1317.2,190.7 1319.6,189.2 C1321.9,187.7 1323.6,183.8 1325.6,181.1 C1327.7,178.4 1329.7,175.2 1331.7,173.0 C1333.7,170.8 1335.8,169.0 1337.8,168.0 C1339.8,167.0 1342.0,166.6 1343.9,167.0 C1345.7,167.3 1347.6,168.8 1348.9,170.0 C1350.3,171.2 1350.8,175.2 1352.0,174.0 C1353.1,172.9 1354.7,164.4 1356.0,162.9 C1357.3,161.4 1358.4,161.6 1360.0,164.9 C1361.7,168.3 1364.3,182.3 1366.1,183.2 C1368.0,184.0 1369.5,172.7 1371.2,170.0 C1372.9,167.3 1374.2,166.5 1376.2,167.0 C1378.3,167.5 1380.6,172.5 1383.3,173.0 C1386.0,173.5 1389.6,170.2 1392.4,170.0 C1395.3,169.8 1398.5,171.9 1400.5,172.0 C1402.5,172.2 1403.2,170.0 1404.6,171.0 C1405.9,172.0 1406.9,175.2 1408.6,178.1 C1410.3,181.0 1412.5,185.3 1414.7,188.2 C1416.9,191.1 1419.9,192.6 1421.8,195.3 C1423.6,198.0 1424.9,202.0 1425.8,204.4 C1426.8,206.8 1426.9,208.5 1427.5,209.5 C1428.0,210.5 1427.9,211.7 1428.9,210.5 C1429.8,209.3 1432.0,204.2 1432.9,202.4 C1433.8,200.5 1432.6,201.5 1434.1,199.3 C1435.7,197.2 1439.9,189.9 1442.2,189.2 C1444.6,188.6 1445.9,194.3 1448.3,195.3 C1450.7,196.3 1453.4,195.0 1456.4,195.3 C1459.4,195.6 1464.0,197.8 1466.5,197.3 C1469.0,196.8 1469.7,193.9 1471.6,192.3 C1473.4,190.6 1475.3,190.7 1477.6,187.2 C1480.0,183.7 1482.9,173.5 1485.7,171.0 C1488.6,168.5 1492.0,173.7 1494.8,172.0 C1497.7,170.3 1500.7,161.7 1502.9,160.9 C1505.1,160.0 1506.5,165.8 1508.0,167.0 C1509.5,168.1 1510.4,166.8 1512.0,168.0 C1513.7,169.2 1516.3,172.5 1518.1,174.0 C1520.0,175.6 1521.3,177.6 1523.2,177.1 C1525.0,176.6 1527.2,172.5 1529.2,171.0 C1531.3,169.5 1533.5,168.0 1535.3,168.0 C1537.2,168.0 1538.7,172.1 1540.4,171.0 C1542.1,169.9 1543.6,162.2 1545.4,161.5 C1547.3,160.8 1549.7,165.0 1551.5,167.0 C1553.4,168.9 1554.7,171.3 1556.6,173.0 C1558.4,174.7 1560.8,175.2 1562.6,177.1 C1564.5,178.9 1566.0,182.8 1567.7,184.2 C1569.4,185.5 1571.2,182.8 1572.8,185.2 C1574.3,187.5 1575.6,194.1 1576.8,198.3 C1578.0,202.5 1579.3,208.5 1579.8,210.5" fill="none" stroke="#731d70" stroke-width="2.5" stroke-linejoin="round"/>
<path d="M62.7,314.7 C64.4,314.0 69.4,311.2 73.2,310.7 C77.0,310.1 81.3,311.8 85.4,311.7 C89.4,311.6 93.5,309.5 97.5,310.0 C101.5,310.6 105.6,313.1 109.6,314.7 C113.7,316.3 117.4,318.4 121.8,319.8 C126.2,321.1 131.9,322.1 136.0,322.8 C140.0,323.5 142.0,323.6 146.1,323.8 C150.1,324.0 155.9,324.0 160.2,323.8 C164.6,323.6 168.3,323.6 172.4,322.8 C176.4,322.0 179.8,320.1 184.5,318.8 C189.2,317.4 196.0,315.4 200.7,314.7 C205.4,314.0 209.1,314.6 212.9,314.7 C216.6,314.8 219.1,315.5 223.2,315.3 C227.3,315.1 233.0,314.4 237.4,313.7 C241.7,313.0 245.5,311.3 249.5,311.3 C253.5,311.3 257.6,312.4 261.6,313.7 C265.7,314.9 269.4,317.2 273.8,318.8 C278.2,320.3 283.4,321.6 288.0,322.8 C292.5,324.0 296.7,325.8 301.1,325.8 C305.5,325.8 309.7,323.6 314.3,322.8 C318.8,322.0 323.4,321.8 328.4,320.8 C333.5,319.8 339.9,317.7 344.6,316.7 C349.3,315.7 352.7,315.0 356.8,314.7 C360.8,314.4 364.8,314.4 368.9,314.7 C373.0,315.0 376.5,317.2 381.3,316.7 C386.0,316.3 392.4,312.4 397.5,312.1 C402.5,311.7 407.2,313.4 411.6,314.7 C416.0,316.0 419.0,318.2 423.8,319.8 C428.5,321.3 434.2,322.8 440.0,323.8 C445.7,324.8 452.8,326.2 458.2,325.8 C463.6,325.5 467.3,322.8 472.3,321.8 C477.4,320.8 483.1,320.8 488.5,319.8 C493.9,318.8 499.7,317.1 504.7,315.7 C509.8,314.4 514.1,312.0 518.9,311.7 C523.6,311.3 527.8,313.7 533.3,313.7 C538.7,313.7 546.1,311.5 551.5,311.7 C556.9,311.8 560.9,313.2 565.6,314.7 C570.4,316.2 575.4,319.4 579.8,320.8 C584.2,322.1 587.6,322.0 592.0,322.8 C596.3,323.6 601.4,325.7 606.1,325.8 C610.8,326.0 616.2,324.3 620.3,323.8 C624.3,323.3 626.7,323.6 630.4,322.8 C634.1,322.0 638.2,319.9 642.5,318.8 C646.9,317.6 652.0,316.4 656.7,315.7 C661.4,315.0 667.8,314.9 670.9,314.7 C674.0,314.5 671.4,314.9 675.1,314.7 C678.9,314.5 688.0,314.0 693.4,313.7 C698.8,313.4 703.1,312.3 707.5,312.7 C711.9,313.0 715.6,314.4 719.7,315.7 C723.7,317.1 727.1,319.3 731.8,320.8 C736.5,322.3 742.9,324.0 748.0,324.8 C753.1,325.7 757.4,326.0 762.2,325.8 C766.9,325.7 771.6,324.8 776.3,323.8 C781.1,322.9 785.8,321.2 790.5,320.2 C795.2,319.2 800.3,318.5 804.7,317.7 C809.1,317.0 813.7,315.8 816.8,315.7 C819.9,315.6 821.7,317.2 823.1,317.3 C824.4,317.5 822.9,317.0 824.9,316.7 C826.9,316.5 831.2,316.2 835.2,315.7 C839.3,315.3 844.3,314.4 849.4,314.1 C854.5,313.8 861.2,313.7 865.6,314.1 C870.0,314.5 872.7,315.3 875.7,316.7 C878.8,318.2 880.4,321.4 883.8,322.8 C887.2,324.1 891.9,324.3 896.0,324.8 C900.0,325.3 903.4,326.0 908.1,325.8 C912.8,325.7 918.9,324.7 924.3,323.8 C929.7,323.0 935.1,322.1 940.5,320.8 C945.9,319.4 951.3,317.1 956.7,315.7 C962.1,314.4 969.1,312.9 972.9,312.7 C976.6,312.4 976.1,314.3 979.1,314.1 C982.2,313.9 986.6,311.8 991.3,311.7 C996.0,311.5 1002.8,313.3 1007.5,313.3 C1012.2,313.3 1016.2,311.1 1019.6,311.7 C1023.0,312.2 1024.3,315.0 1027.7,316.7 C1031.1,318.4 1035.1,320.4 1039.9,321.8 C1044.6,323.1 1050.7,324.5 1056.0,324.8 C1061.4,325.2 1066.8,324.4 1072.2,323.8 C1077.6,323.2 1083.0,322.7 1088.4,321.4 C1093.8,320.0 1099.2,316.8 1104.6,315.7 C1110.0,314.6 1115.7,314.9 1120.8,314.7 C1125.9,314.5 1130.4,314.9 1135.2,314.7 C1139.9,314.5 1145.0,314.1 1149.4,313.7 C1153.7,313.3 1157.1,311.8 1161.5,312.1 C1165.9,312.3 1171.3,314.0 1175.7,315.3 C1180.1,316.6 1184.4,318.3 1187.8,319.8 C1191.2,321.2 1192.2,323.0 1195.9,323.8 C1199.6,324.7 1205.3,324.5 1210.1,324.8 C1214.8,325.2 1219.5,326.3 1224.2,325.8 C1229.0,325.3 1233.7,323.1 1238.4,321.8 C1243.1,320.4 1247.5,318.8 1252.6,317.7 C1257.6,316.7 1264.0,316.1 1268.8,315.7 C1273.5,315.3 1277.2,315.8 1280.9,315.3 C1284.7,314.8 1286.8,312.9 1291.2,312.7 C1295.7,312.4 1302.4,313.5 1307.4,313.7 C1312.5,313.9 1316.9,312.8 1321.6,313.7 C1326.3,314.5 1330.7,317.2 1335.8,318.8 C1340.8,320.3 1346.6,321.8 1352.0,322.8 C1357.3,323.8 1363.8,324.7 1368.1,324.8 C1372.5,325.0 1374.2,324.5 1378.3,323.8 C1382.3,323.1 1387.4,321.8 1392.4,320.8 C1397.5,319.8 1403.2,318.9 1408.6,317.7 C1414.0,316.6 1419.7,314.4 1424.8,313.7 C1429.9,313.0 1432.7,314.0 1439.2,313.7 C1445.6,313.4 1457.1,311.5 1463.5,311.7 C1469.9,311.8 1473.3,313.4 1477.6,314.7 C1482.0,316.1 1485.4,318.3 1489.8,319.8 C1494.2,321.2 1499.2,322.7 1504.0,323.4 C1508.7,324.1 1513.4,323.9 1518.1,323.8 C1522.8,323.7 1527.9,323.0 1532.3,322.8 C1536.7,322.6 1540.4,323.6 1544.4,322.8 C1548.5,322.0 1552.5,319.1 1556.6,317.7 C1560.6,316.4 1565.0,315.4 1568.7,314.7 C1572.4,314.0 1577.1,313.9 1578.8,313.7" fill="none" stroke="#7ce9ee" stroke-width="3.3" stroke-linejoin="round"/>
<text x="1605.5" y="404.1" font-size="25.5" text-anchor="start" fill="#444444" font-weight="normal" >0</text>
<text x="1605.5" y="349.5" font-size="25.5" text-anchor="start" fill="#444444" font-weight="normal" >20</text>
<text x="1605.5" y="292.1" font-size="25.5" text-anchor="start" fill="#444444" font-weight="normal" >40</text>
<text x="1605.5" y="237.3" font-size="25.5" text-anchor="start" fill="#444444" font-weight="normal" >60</text>
<text x="1605.5" y="182.3" font-size="25.5" text-anchor="start" fill="#444444" font-weight="normal" >80</text>
<text x="1605.5" y="125.2" font-size="25.5" text-anchor="start" fill="#444444" font-weight="normal" >100</text>
<text x="62.1" y="433" font-size="25.7" text-anchor="middle" fill="#444444" font-weight="normal" >2010</text>
<text x="214.0" y="433" font-size="25.7" text-anchor="middle" fill="#444444" font-weight="normal" >2011</text>
<text x="365.8" y="433" font-size="25.7" text-anchor="middle" fill="#444444" font-weight="normal" >2012</text>
<text x="518.1" y="433" font-size="25.7" text-anchor="middle" fill="#444444" font-weight="normal" >2013</text>
<text x="670.0" y="433" font-size="25.7" text-anchor="middle" fill="#444444" font-weight="normal" >2014</text>
<text x="821.8" y="433" font-size="25.7" text-anchor="middle" fill="#444444" font-weight="normal" >2015</text>
<text x="973.7" y="433" font-size="25.7" text-anchor="middle" fill="#444444" font-weight="normal" >2016</text>
<text x="1126.0" y="433" font-size="25.7" text-anchor="middle" fill="#444444" font-weight="normal" >2017</text>
<text x="1277.8" y="433" font-size="25.7" text-anchor="middle" fill="#444444" font-weight="normal" >2018</text>
<text x="1429.7" y="433" font-size="25.7" text-anchor="middle" fill="#444444" font-weight="normal" >2019</text>
<text x="822" y="472.5" font-size="25.2" text-anchor="middle" fill="#2a2a2a" font-weight="normal" >date (year beginning)</text>
<text x="1656.8" y="202.0" font-size="24.8" text-anchor="start" fill="#222222" font-weight="normal" >(L/d/m<tspan dy="-10" font-size="14.5">2</tspan><tspan dy="10">),</tspan></text>
<text x="1656.8" y="233.2" font-size="24.8" text-anchor="start" fill="#222222" font-weight="normal" >(°C),</text>
<text x="1656.8" y="264.4" font-size="24.8" text-anchor="start" fill="#222222" font-weight="normal" >(%),</text>
<text x="1656.8" y="295.6" font-size="24.8" text-anchor="start" fill="#222222" font-weight="normal" >(W/m<tspan dy="-10" font-size="14.5">2</tspan><tspan dy="10">/10)</tspan></text>
<text x="7" y="579.5" font-size="34" text-anchor="start" fill="#111" font-weight="bold" >b</text>
<text x="60.3" y="567.2" font-size="25" text-anchor="start" fill="#111" font-weight="normal" >Limits_Kim2020 timeseries</text>
<rect x="1093" y="600.4" width="49.5" height="10.2" fill="rgb(18,45,140)" fill-opacity="0.3"/>
<line x1="1093" y1="598.3" x2="1142.5" y2="598.3" stroke="#1a2c80" stroke-width="4"/>
<text x="1152.2" y="606.6" font-size="25" text-anchor="start" fill="#111" font-weight="normal" >O</text>
<line x1="1212.5" y1="598.3" x2="1262.5" y2="598.3" stroke="#f7f46c" stroke-width="3.5"/>
<text x="1271.8" y="606.6" font-size="25" text-anchor="start" fill="#111" font-weight="normal" >ghi</text>
<line x1="1344.5" y1="598.3" x2="1394" y2="598.3" stroke="#731d70" stroke-width="3.5"/>
<text x="1402.5" y="606.6" font-size="25" text-anchor="start" fill="#111" font-weight="normal" >rh</text>
<line x1="1466.5" y1="598.3" x2="1516.5" y2="598.3" stroke="#7ce9ee" stroke-width="3.5"/>
<text x="1525.5" y="606.6" font-size="25" text-anchor="start" fill="#111" font-weight="normal" >temp</text>
<line x1="436.2" y1="626" x2="436.2" y2="933.4" stroke="#c9c9c9" stroke-width="2"/>
<line x1="812.0" y1="626" x2="812.0" y2="933.4" stroke="#c9c9c9" stroke-width="2"/>
<line x1="1186.1" y1="626" x2="1186.1" y2="933.4" stroke="#c9c9c9" stroke-width="2"/>
<line x1="1560.2" y1="626" x2="1560.2" y2="933.4" stroke="#c9c9c9" stroke-width="2"/>
<line x1="62.0" y1="878.8" x2="1581" y2="878.8" stroke="#c9c9c9" stroke-width="2"/>
<line x1="62.0" y1="821.4" x2="1581" y2="821.4" stroke="#c9c9c9" stroke-width="2"/>
<line x1="62.0" y1="766.6" x2="1581" y2="766.6" stroke="#c9c9c9" stroke-width="2"/>
<line x1="62.0" y1="711.6" x2="1581" y2="711.6" stroke="#c9c9c9" stroke-width="2"/>
<line x1="62.0" y1="654.5" x2="1581" y2="654.5" stroke="#c9c9c9" stroke-width="2"/>
<path d="M62.0,780.3 L118.2,762.6 L174.4,756.8 L230.6,747.0 L286.8,744.1 L343.0,737.0 L399.2,730.3 L455.4,718.0 L511.6,711.2 L567.8,709.1 L624.0,686.2 L680.2,673.8 L736.4,681.2 L792.6,678.2 L848.8,666.5 L905.0,681.2 L961.2,688.2 L1017.4,684.7 L1073.6,663.0 L1129.8,664.7 L1186.0,668.5 L1242.2,659.7 L1298.4,659.7 L1354.6,676.5 L1410.8,698.8 L1467.0,728.8 L1523.2,754.7 L1579.4,773.5 L1579.4,933.4 L62.0,933.4 Z" fill="rgb(18,45,140)" fill-opacity="0.3"/>
<line x1="61.0" y1="933.4" x2="1580.0" y2="933.4" stroke="#333333" stroke-width="2"/>
<line x1="62.0" y1="626" x2="62.0" y2="934.4" stroke="#333333" stroke-width="2"/>
<path d="M62.0,780.3 L118.2,762.6 L174.4,756.8 L230.6,747.0 L286.8,744.1 L343.0,737.0 L399.2,730.3 L455.4,718.0 L511.6,711.2 L567.8,709.1 L624.0,686.2 L680.2,673.8 L736.4,681.2 L792.6,678.2 L848.8,666.5 L905.0,681.2 L961.2,688.2 L1017.4,684.7 L1073.6,663.0 L1129.8,664.7 L1186.0,668.5 L1242.2,659.7 L1298.4,659.7 L1354.6,676.5 L1410.8,698.8 L1467.0,728.8 L1523.2,754.7 L1579.4,773.5" fill="none" stroke="#1a2c80" stroke-width="4" stroke-linejoin="round"/>
<path d="M61.5,803.0 C72.7,803.8 110.0,806.0 128.5,807.6 C147.0,809.2 155.4,811.3 172.6,812.6 C189.8,813.9 211.9,815.8 231.5,815.6 C251.1,815.4 270.7,812.7 290.3,811.2 C309.9,809.7 329.5,808.8 349.1,806.8 C368.7,804.8 390.8,800.9 408.0,799.4 C425.2,797.9 435.9,797.8 452.1,797.9 C468.3,798.0 490.3,797.8 505.0,800.0 C519.7,802.2 528.1,807.7 540.3,811.2 C552.5,814.7 563.8,818.0 578.0,821.0 C592.2,824.0 608.9,825.9 625.6,829.4 C642.4,832.9 659.9,839.0 678.5,842.1 C697.1,845.2 718.8,847.4 737.4,847.9 C756.0,848.4 771.7,846.7 790.3,845.0 C808.9,843.3 830.5,838.2 849.1,837.6 C867.7,837.0 883.5,841.3 902.1,841.2 C920.7,841.1 941.8,838.1 960.9,837.1 C980.0,836.1 997.8,837.7 1016.8,835.3 C1035.8,832.9 1061.2,825.0 1075.0,822.9 C1088.8,820.8 1089.5,822.4 1099.4,822.4 C1109.4,822.4 1120.2,821.7 1134.7,822.9 C1149.2,824.1 1168.6,828.6 1186.2,829.4 C1203.8,830.1 1222.0,828.6 1240.6,827.4 C1259.2,826.2 1279.4,823.4 1298.0,822.4 C1316.6,821.4 1333.5,822.5 1352.4,821.5 C1371.3,820.5 1392.1,817.6 1411.2,816.5 C1430.3,815.4 1448.4,815.7 1467.0,814.7 C1485.6,813.7 1504.2,812.3 1522.9,810.6 C1541.6,808.9 1570.0,805.7 1579.4,804.7" fill="none" stroke="#f7f46c" stroke-width="3.3"/>
<path d="M61.5,755.9 C71.2,753.8 101.2,746.1 119.7,743.5 C138.2,740.9 154.0,741.6 172.6,740.0 C191.2,738.4 212.9,735.1 231.5,734.1 C250.1,733.1 264.8,734.0 284.4,734.1 C304.0,734.2 331.0,734.4 349.1,734.7 C367.2,735.1 378.5,736.2 393.2,736.2 C407.9,736.2 422.7,735.2 437.4,734.7 C452.1,734.2 467.8,733.9 481.5,733.2 C495.2,732.5 504.6,732.0 519.7,730.3 C534.8,728.6 554.9,725.6 572.0,723.0 C589.1,720.4 604.9,717.3 622.6,714.7 C640.4,712.1 664.3,708.9 678.5,707.6 C692.7,706.3 698.1,706.8 707.9,706.8 C717.7,706.8 723.7,707.1 737.4,707.4 C751.1,707.7 771.7,708.4 790.3,708.8 C808.9,709.2 830.5,709.4 849.1,709.7 C867.7,710.0 883.5,710.0 902.1,710.6 C920.7,711.2 941.8,713.2 960.9,713.5 C980.0,713.8 997.8,713.0 1016.8,712.6 C1035.8,712.2 1056.3,711.3 1075.0,711.2 C1093.7,711.1 1110.3,712.6 1128.8,712.1 C1147.3,711.6 1167.6,708.9 1186.2,708.2 C1204.8,707.6 1222.0,707.7 1240.6,708.2 C1259.2,708.7 1279.4,710.0 1298.0,711.2 C1316.6,712.4 1333.5,713.7 1352.4,715.6 C1371.3,717.5 1392.1,720.7 1411.2,722.9 C1430.3,725.1 1448.4,726.1 1467.0,728.8 C1485.6,731.5 1504.2,735.5 1522.9,739.1 C1541.6,742.7 1570.0,748.4 1579.4,750.3" fill="none" stroke="#731d70" stroke-width="2.5"/>
<path d="M61.5,852.4 C80.0,852.4 134.5,852.5 172.6,852.4 C210.7,852.3 251.1,852.0 290.3,851.8 C329.5,851.5 373.7,850.9 408.0,850.9 C442.3,850.9 468.4,851.2 496.2,851.8 C524.0,852.4 545.6,853.2 575.0,854.4 C604.4,855.6 636.7,857.7 672.6,858.8 C708.5,859.9 751.1,860.6 790.3,861.2 C829.5,861.8 868.7,862.5 907.9,862.6 C947.1,862.8 998.6,862.2 1025.6,862.1 C1052.6,862.0 1043.0,862.0 1070.0,861.8 C1097.0,861.5 1148.4,861.2 1187.6,860.6 C1226.8,860.0 1266.1,859.1 1305.3,858.2 C1344.5,857.3 1377.2,856.2 1422.9,855.3 C1468.6,854.4 1553.3,853.3 1579.4,852.9" fill="none" stroke="#7ce9ee" stroke-width="3.3"/>
<text x="1605.5" y="942.1" font-size="25.5" text-anchor="start" fill="#444444" font-weight="normal" >0</text>
<text x="1605.5" y="887.5" font-size="25.5" text-anchor="start" fill="#444444" font-weight="normal" >20</text>
<text x="1605.5" y="830.1" font-size="25.5" text-anchor="start" fill="#444444" font-weight="normal" >40</text>
<text x="1605.5" y="775.3" font-size="25.5" text-anchor="start" fill="#444444" font-weight="normal" >60</text>
<text x="1605.5" y="720.3" font-size="25.5" text-anchor="start" fill="#444444" font-weight="normal" >80</text>
<text x="1605.5" y="663.2" font-size="25.5" text-anchor="start" fill="#444444" font-weight="normal" >100</text>
<text x="62.0" y="971" font-size="25.7" text-anchor="middle" fill="#444444" font-weight="normal" >0</text>
<text x="436.2" y="971" font-size="25.7" text-anchor="middle" fill="#444444" font-weight="normal" >90</text>
<text x="812.0" y="971" font-size="25.7" text-anchor="middle" fill="#444444" font-weight="normal" >180</text>
<text x="1186.1" y="971" font-size="25.7" text-anchor="middle" fill="#444444" font-weight="normal" >270</text>
<text x="1561.0" y="971" font-size="25.7" text-anchor="middle" fill="#444444" font-weight="normal" >360</text>
<text x="821.5" y="1010.5" font-size="25.2" text-anchor="middle" fill="#2a2a2a" font-weight="normal" >day of year</text>
<text x="1656.5" y="745.5" font-size="24.8" text-anchor="start" fill="#222222" font-weight="normal" >(L/d/m<tspan dy="-10" font-size="14.5">2</tspan><tspan dy="10">),</tspan></text>
<text x="1656.5" y="776.7" font-size="24.8" text-anchor="start" fill="#222222" font-weight="normal" >(°C),</text>
<text x="1656.5" y="807.9" font-size="24.8" text-anchor="start" fill="#222222" font-weight="normal" >(%),</text>
<text x="1656.5" y="839.1" font-size="24.8" text-anchor="start" fill="#222222" font-weight="normal" >(W/m<tspan dy="-10" font-size="14.5">2</tspan><tspan dy="10">/10)</tspan></text>
<text x="5" y="1119" font-size="34" text-anchor="start" fill="#111" font-weight="bold" >c</text>
<text x="60.8" y="1106.2" font-size="25" text-anchor="start" fill="#111" font-weight="normal" >1.0 billion Target Curve (linear) timeseries</text>
<rect x="1093" y="1138.9" width="49.5" height="10.2" fill="rgb(18,45,140)" fill-opacity="0.3"/>
<line x1="1093" y1="1136.8" x2="1142.5" y2="1136.8" stroke="#1a2c80" stroke-width="4"/>
<text x="1152.2" y="1145.1" font-size="25" text-anchor="start" fill="#111" font-weight="normal" >O</text>
<line x1="1212.5" y1="1136.8" x2="1262.5" y2="1136.8" stroke="#f7f46c" stroke-width="3.5"/>
<text x="1271.8" y="1145.1" font-size="25" text-anchor="start" fill="#111" font-weight="normal" >ghi</text>
<line x1="1344.5" y1="1136.8" x2="1394" y2="1136.8" stroke="#731d70" stroke-width="3.5"/>
<text x="1402.5" y="1145.1" font-size="25" text-anchor="start" fill="#111" font-weight="normal" >rh</text>
<line x1="1466.5" y1="1136.8" x2="1516.5" y2="1136.8" stroke="#7ce9ee" stroke-width="3.5"/>
<text x="1525.5" y="1145.1" font-size="25" text-anchor="start" fill="#111" font-weight="normal" >temp</text>
<line x1="62.1" y1="1164.5" x2="62.1" y2="1471.9" stroke="#c9c9c9" stroke-width="2"/>
<line x1="112.0" y1="1164.5" x2="112.0" y2="1471.9" stroke="#e9e9e9" stroke-width="2"/>
<line x1="164.1" y1="1164.5" x2="164.1" y2="1471.9" stroke="#e9e9e9" stroke-width="2"/>
<line x1="214.0" y1="1164.5" x2="214.0" y2="1471.9" stroke="#c9c9c9" stroke-width="2"/>
<line x1="263.9" y1="1164.5" x2="263.9" y2="1471.9" stroke="#e9e9e9" stroke-width="2"/>
<line x1="316.0" y1="1164.5" x2="316.0" y2="1471.9" stroke="#e9e9e9" stroke-width="2"/>
<line x1="365.8" y1="1164.5" x2="365.8" y2="1471.9" stroke="#c9c9c9" stroke-width="2"/>
<line x1="416.2" y1="1164.5" x2="416.2" y2="1471.9" stroke="#e9e9e9" stroke-width="2"/>
<line x1="468.2" y1="1164.5" x2="468.2" y2="1471.9" stroke="#e9e9e9" stroke-width="2"/>
<line x1="518.1" y1="1164.5" x2="518.1" y2="1471.9" stroke="#c9c9c9" stroke-width="2"/>
<line x1="568.0" y1="1164.5" x2="568.0" y2="1471.9" stroke="#e9e9e9" stroke-width="2"/>
<line x1="620.1" y1="1164.5" x2="620.1" y2="1471.9" stroke="#e9e9e9" stroke-width="2"/>
<line x1="670.0" y1="1164.5" x2="670.0" y2="1471.9" stroke="#c9c9c9" stroke-width="2"/>
<line x1="719.9" y1="1164.5" x2="719.9" y2="1471.9" stroke="#e9e9e9" stroke-width="2"/>
<line x1="772.0" y1="1164.5" x2="772.0" y2="1471.9" stroke="#e9e9e9" stroke-width="2"/>
<line x1="821.8" y1="1164.5" x2="821.8" y2="1471.9" stroke="#c9c9c9" stroke-width="2"/>
<line x1="871.8" y1="1164.5" x2="871.8" y2="1471.9" stroke="#e9e9e9" stroke-width="2"/>
<line x1="923.8" y1="1164.5" x2="923.8" y2="1471.9" stroke="#e9e9e9" stroke-width="2"/>
<line x1="973.7" y1="1164.5" x2="973.7" y2="1471.9" stroke="#c9c9c9" stroke-width="2"/>
<line x1="1024.0" y1="1164.5" x2="1024.0" y2="1471.9" stroke="#e9e9e9" stroke-width="2"/>
<line x1="1076.1" y1="1164.5" x2="1076.1" y2="1471.9" stroke="#e9e9e9" stroke-width="2"/>
<line x1="1126.0" y1="1164.5" x2="1126.0" y2="1471.9" stroke="#c9c9c9" stroke-width="2"/>
<line x1="1175.9" y1="1164.5" x2="1175.9" y2="1471.9" stroke="#e9e9e9" stroke-width="2"/>
<line x1="1228.0" y1="1164.5" x2="1228.0" y2="1471.9" stroke="#e9e9e9" stroke-width="2"/>
<line x1="1277.8" y1="1164.5" x2="1277.8" y2="1471.9" stroke="#c9c9c9" stroke-width="2"/>
<line x1="1327.8" y1="1164.5" x2="1327.8" y2="1471.9" stroke="#e9e9e9" stroke-width="2"/>
<line x1="1379.8" y1="1164.5" x2="1379.8" y2="1471.9" stroke="#e9e9e9" stroke-width="2"/>
<line x1="1429.7" y1="1164.5" x2="1429.7" y2="1471.9" stroke="#c9c9c9" stroke-width="2"/>
<line x1="1479.6" y1="1164.5" x2="1479.6" y2="1471.9" stroke="#e9e9e9" stroke-width="2"/>
<line x1="1531.7" y1="1164.5" x2="1531.7" y2="1471.9" stroke="#e9e9e9" stroke-width="2"/>
<line x1="62.0" y1="1417.3" x2="1581" y2="1417.3" stroke="#c9c9c9" stroke-width="2"/>
<line x1="62.0" y1="1359.9" x2="1581" y2="1359.9" stroke="#c9c9c9" stroke-width="2"/>
<line x1="62.0" y1="1305.1" x2="1581" y2="1305.1" stroke="#c9c9c9" stroke-width="2"/>
<line x1="62.0" y1="1250.1" x2="1581" y2="1250.1" stroke="#c9c9c9" stroke-width="2"/>
<line x1="62.0" y1="1193.0" x2="1581" y2="1193.0" stroke="#c9c9c9" stroke-width="2"/>
<path d="M62.7,1303.2 L68.2,1298.1 L74.2,1299.1 L79.3,1288.0 L85.4,1281.9 L91.4,1278.9 L96.5,1258.6 L101.5,1264.7 L105.6,1274.8 L110.7,1269.8 L115.7,1278.9 L121.8,1296.1 L127.9,1298.1 L131.9,1306.2 L134.9,1315.3 L137.6,1286.0 L140.0,1295.1 L143.0,1304.2 L149.1,1303.2 L155.2,1297.1 L160.2,1280.9 L166.3,1277.9 L171.4,1299.1 L174.4,1271.8 L181.5,1268.8 L187.6,1278.9 L194.6,1290.0 L200.7,1297.1 L205.8,1299.1 L210.8,1295.1 L213.1,1306.2 L219.1,1303.2 L225.2,1299.1 L231.3,1287.0 L237.4,1276.9 L242.4,1262.7 L249.5,1261.7 L251.5,1272.8 L256.6,1266.7 L261.6,1278.9 L267.7,1285.0 L274.8,1298.1 L280.9,1297.1 L286.9,1300.1 L292.0,1301.1 L295.0,1298.1 L298.1,1315.3 L301.1,1332.5 L304.1,1311.3 L307.2,1289.0 L312.2,1282.9 L318.3,1279.9 L324.0,1270.8 L328.4,1278.9 L333.5,1290.0 L339.6,1264.7 L344.6,1274.8 L349.7,1287.0 L353.7,1299.1 L356.8,1308.2 L361.8,1305.2 L366.1,1299.1 L371.9,1304.2 L378.2,1297.1 L384.3,1290.0 L389.4,1279.9 L394.4,1266.7 L401.5,1265.7 L403.5,1270.8 L409.6,1260.7 L416.7,1264.7 L419.7,1287.0 L423.8,1294.1 L428.8,1297.1 L433.9,1294.1 L438.9,1301.1 L442.0,1285.0 L444.0,1299.1 L447.0,1312.3 L452.1,1305.2 L459.2,1301.1 L464.2,1282.9 L469.3,1278.9 L475.4,1278.9 L479.4,1271.8 L482.5,1273.8 L486.5,1278.9 L491.6,1265.7 L497.6,1282.9 L502.7,1295.1 L508.8,1297.1 L513.8,1306.2 L518.7,1317.3 L523.9,1301.1 L530.2,1302.2 L535.3,1282.9 L541.4,1283.9 L546.4,1271.8 L552.5,1272.8 L555.5,1262.7 L561.6,1265.7 L566.7,1271.8 L571.7,1279.9 L575.8,1286.0 L579.8,1294.1 L584.9,1283.9 L589.9,1307.2 L594.0,1301.1 L599.0,1315.3 L605.1,1301.1 L611.2,1301.1 L616.2,1289.0 L622.3,1287.0 L627.4,1308.2 L630.4,1307.2 L632.4,1280.9 L637.5,1270.8 L643.6,1278.9 L648.6,1293.0 L654.7,1297.1 L660.8,1308.2 L663.0,1307.2 L666.8,1302.2 L670.1,1297.1 L672.9,1293.0 L676.2,1291.0 L682.2,1288.0 L688.3,1279.9 L695.4,1276.9 L700.4,1266.7 L705.1,1290.0 L707.5,1259.7 L710.6,1261.7 L715.6,1275.8 L719.7,1277.9 L725.7,1268.8 L730.8,1302.2 L735.9,1301.1 L742.9,1294.1 L748.0,1310.2 L752.0,1321.4 L757.1,1303.2 L763.2,1298.1 L768.2,1288.0 L774.3,1278.9 L779.4,1285.0 L784.0,1271.8 L790.5,1272.8 L796.6,1278.9 L801.6,1272.8 L806.7,1289.0 L812.8,1296.1 L816.8,1304.2 L822.1,1323.4 L826.1,1303.2 L827.9,1293.0 L830.2,1286.0 L834.2,1279.9 L840.3,1295.1 L845.4,1272.8 L851.4,1277.9 L857.5,1278.9 L861.5,1262.7 L865.6,1246.5 L869.6,1264.7 L876.7,1287.0 L879.8,1303.2 L883.8,1328.5 L888.9,1301.1 L894.9,1321.4 L898.0,1280.9 L904.0,1299.1 L909.1,1288.0 L915.2,1298.1 L920.2,1285.0 L926.3,1279.9 L934.4,1273.8 L942.1,1263.7 L948.6,1273.8 L954.6,1271.8 L959.7,1291.0 L964.8,1309.2 L967.8,1325.4 L971.0,1339.6 L975.1,1321.4 L980.2,1305.2 L986.2,1313.3 L992.3,1287.0 L997.4,1282.9 L1003.4,1280.9 L1011.5,1259.7 L1017.6,1266.7 L1023.7,1270.8 L1029.7,1303.2 L1035.8,1280.9 L1041.9,1312.3 L1050.0,1270.8 L1056.0,1291.0 L1062.1,1286.0 L1068.2,1289.0 L1073.2,1280.9 L1079.3,1286.0 L1085.4,1291.0 L1088.4,1278.9 L1094.1,1252.6 L1100.6,1262.7 L1106.6,1269.8 L1112.7,1281.9 L1119.8,1290.0 L1125.9,1293.0 L1131.9,1280.9 L1138.2,1282.9 L1144.3,1275.8 L1150.4,1280.9 L1157.5,1275.8 L1163.5,1267.8 L1170.6,1262.7 L1174.7,1264.7 L1179.7,1273.8 L1187.8,1280.9 L1190.8,1303.2 L1193.9,1329.5 L1196.9,1307.2 L1200.0,1293.0 L1202.0,1309.2 L1208.0,1291.0 L1213.1,1285.0 L1218.2,1296.1 L1225.2,1301.1 L1231.3,1286.0 L1236.4,1280.9 L1241.4,1262.7 L1246.1,1249.5 L1250.5,1270.8 L1256.6,1280.9 L1262.7,1282.9 L1269.8,1296.1 L1274.8,1292.0 L1278.7,1305.2 L1283.9,1293.0 L1290.2,1290.0 L1296.3,1287.0 L1302.4,1281.9 L1309.5,1275.8 L1313.5,1253.6 L1315.5,1277.9 L1321.6,1253.6 L1324.6,1270.8 L1328.7,1291.0 L1333.7,1259.7 L1339.8,1276.9 L1345.9,1306.2 L1352.0,1295.1 L1358.0,1289.0 L1365.1,1271.8 L1371.2,1298.1 L1376.2,1285.0 L1382.3,1274.8 L1388.4,1277.9 L1392.4,1271.8 L1398.5,1262.7 L1404.6,1274.8 L1409.6,1268.8 L1415.7,1282.9 L1421.8,1294.1 L1427.5,1300.1 L1432.9,1295.1 L1435.1,1294.1 L1443.2,1289.0 L1451.3,1281.9 L1458.4,1274.8 L1463.5,1266.7 L1466.5,1256.6 L1469.5,1263.7 L1474.6,1253.6 L1478.7,1266.7 L1482.7,1280.9 L1485.7,1289.0 L1491.8,1292.0 L1497.9,1297.1 L1500.9,1305.2 L1504.0,1315.3 L1506.4,1287.0 L1511.0,1282.9 L1517.1,1280.9 L1523.2,1274.8 L1529.2,1285.0 L1535.3,1296.1 L1540.4,1274.8 L1544.4,1300.1 L1550.5,1278.9 L1556.6,1259.7 L1562.6,1264.7 L1567.7,1275.8 L1572.8,1283.9 L1579.2,1297.1 L1579.2,1471.9 L62.7,1471.9 Z" fill="rgb(18,45,140)" fill-opacity="0.3"/>
<line x1="61.0" y1="1471.9" x2="1580.0" y2="1471.9" stroke="#333333" stroke-width="2"/>
<path d="M62.7,1303.2 L68.2,1298.1 L74.2,1299.1 L79.3,1288.0 L85.4,1281.9 L91.4,1278.9 L96.5,1258.6 L101.5,1264.7 L105.6,1274.8 L110.7,1269.8 L115.7,1278.9 L121.8,1296.1 L127.9,1298.1 L131.9,1306.2 L134.9,1315.3 L137.6,1286.0 L140.0,1295.1 L143.0,1304.2 L149.1,1303.2 L155.2,1297.1 L160.2,1280.9 L166.3,1277.9 L171.4,1299.1 L174.4,1271.8 L181.5,1268.8 L187.6,1278.9 L194.6,1290.0 L200.7,1297.1 L205.8,1299.1 L210.8,1295.1 L213.1,1306.2 L219.1,1303.2 L225.2,1299.1 L231.3,1287.0 L237.4,1276.9 L242.4,1262.7 L249.5,1261.7 L251.5,1272.8 L256.6,1266.7 L261.6,1278.9 L267.7,1285.0 L274.8,1298.1 L280.9,1297.1 L286.9,1300.1 L292.0,1301.1 L295.0,1298.1 L298.1,1315.3 L301.1,1332.5 L304.1,1311.3 L307.2,1289.0 L312.2,1282.9 L318.3,1279.9 L324.0,1270.8 L328.4,1278.9 L333.5,1290.0 L339.6,1264.7 L344.6,1274.8 L349.7,1287.0 L353.7,1299.1 L356.8,1308.2 L361.8,1305.2 L366.1,1299.1 L371.9,1304.2 L378.2,1297.1 L384.3,1290.0 L389.4,1279.9 L394.4,1266.7 L401.5,1265.7 L403.5,1270.8 L409.6,1260.7 L416.7,1264.7 L419.7,1287.0 L423.8,1294.1 L428.8,1297.1 L433.9,1294.1 L438.9,1301.1 L442.0,1285.0 L444.0,1299.1 L447.0,1312.3 L452.1,1305.2 L459.2,1301.1 L464.2,1282.9 L469.3,1278.9 L475.4,1278.9 L479.4,1271.8 L482.5,1273.8 L486.5,1278.9 L491.6,1265.7 L497.6,1282.9 L502.7,1295.1 L508.8,1297.1 L513.8,1306.2 L518.7,1317.3 L523.9,1301.1 L530.2,1302.2 L535.3,1282.9 L541.4,1283.9 L546.4,1271.8 L552.5,1272.8 L555.5,1262.7 L561.6,1265.7 L566.7,1271.8 L571.7,1279.9 L575.8,1286.0 L579.8,1294.1 L584.9,1283.9 L589.9,1307.2 L594.0,1301.1 L599.0,1315.3 L605.1,1301.1 L611.2,1301.1 L616.2,1289.0 L622.3,1287.0 L627.4,1308.2 L630.4,1307.2 L632.4,1280.9 L637.5,1270.8 L643.6,1278.9 L648.6,1293.0 L654.7,1297.1 L660.8,1308.2 L663.0,1307.2 L666.8,1302.2 L670.1,1297.1 L672.9,1293.0 L676.2,1291.0 L682.2,1288.0 L688.3,1279.9 L695.4,1276.9 L700.4,1266.7 L705.1,1290.0 L707.5,1259.7 L710.6,1261.7 L715.6,1275.8 L719.7,1277.9 L725.7,1268.8 L730.8,1302.2 L735.9,1301.1 L742.9,1294.1 L748.0,1310.2 L752.0,1321.4 L757.1,1303.2 L763.2,1298.1 L768.2,1288.0 L774.3,1278.9 L779.4,1285.0 L784.0,1271.8 L790.5,1272.8 L796.6,1278.9 L801.6,1272.8 L806.7,1289.0 L812.8,1296.1 L816.8,1304.2 L822.1,1323.4 L826.1,1303.2 L827.9,1293.0 L830.2,1286.0 L834.2,1279.9 L840.3,1295.1 L845.4,1272.8 L851.4,1277.9 L857.5,1278.9 L861.5,1262.7 L865.6,1246.5 L869.6,1264.7 L876.7,1287.0 L879.8,1303.2 L883.8,1328.5 L888.9,1301.1 L894.9,1321.4 L898.0,1280.9 L904.0,1299.1 L909.1,1288.0 L915.2,1298.1 L920.2,1285.0 L926.3,1279.9 L934.4,1273.8 L942.1,1263.7 L948.6,1273.8 L954.6,1271.8 L959.7,1291.0 L964.8,1309.2 L967.8,1325.4 L971.0,1339.6 L975.1,1321.4 L980.2,1305.2 L986.2,1313.3 L992.3,1287.0 L997.4,1282.9 L1003.4,1280.9 L1011.5,1259.7 L1017.6,1266.7 L1023.7,1270.8 L1029.7,1303.2 L1035.8,1280.9 L1041.9,1312.3 L1050.0,1270.8 L1056.0,1291.0 L1062.1,1286.0 L1068.2,1289.0 L1073.2,1280.9 L1079.3,1286.0 L1085.4,1291.0 L1088.4,1278.9 L1094.1,1252.6 L1100.6,1262.7 L1106.6,1269.8 L1112.7,1281.9 L1119.8,1290.0 L1125.9,1293.0 L1131.9,1280.9 L1138.2,1282.9 L1144.3,1275.8 L1150.4,1280.9 L1157.5,1275.8 L1163.5,1267.8 L1170.6,1262.7 L1174.7,1264.7 L1179.7,1273.8 L1187.8,1280.9 L1190.8,1303.2 L1193.9,1329.5 L1196.9,1307.2 L1200.0,1293.0 L1202.0,1309.2 L1208.0,1291.0 L1213.1,1285.0 L1218.2,1296.1 L1225.2,1301.1 L1231.3,1286.0 L1236.4,1280.9 L1241.4,1262.7 L1246.1,1249.5 L1250.5,1270.8 L1256.6,1280.9 L1262.7,1282.9 L1269.8,1296.1 L1274.8,1292.0 L1278.7,1305.2 L1283.9,1293.0 L1290.2,1290.0 L1296.3,1287.0 L1302.4,1281.9 L1309.5,1275.8 L1313.5,1253.6 L1315.5,1277.9 L1321.6,1253.6 L1324.6,1270.8 L1328.7,1291.0 L1333.7,1259.7 L1339.8,1276.9 L1345.9,1306.2 L1352.0,1295.1 L1358.0,1289.0 L1365.1,1271.8 L1371.2,1298.1 L1376.2,1285.0 L1382.3,1274.8 L1388.4,1277.9 L1392.4,1271.8 L1398.5,1262.7 L1404.6,1274.8 L1409.6,1268.8 L1415.7,1282.9 L1421.8,1294.1 L1427.5,1300.1 L1432.9,1295.1 L1435.1,1294.1 L1443.2,1289.0 L1451.3,1281.9 L1458.4,1274.8 L1463.5,1266.7 L1466.5,1256.6 L1469.5,1263.7 L1474.6,1253.6 L1478.7,1266.7 L1482.7,1280.9 L1485.7,1289.0 L1491.8,1292.0 L1497.9,1297.1 L1500.9,1305.2 L1504.0,1315.3 L1506.4,1287.0 L1511.0,1282.9 L1517.1,1280.9 L1523.2,1274.8 L1529.2,1285.0 L1535.3,1296.1 L1540.4,1274.8 L1544.4,1300.1 L1550.5,1278.9 L1556.6,1259.7 L1562.6,1264.7 L1567.7,1275.8 L1572.8,1283.9 L1579.2,1297.1" fill="none" stroke="#1a2c80" stroke-width="4" stroke-linejoin="round"/>
<path d="M62.7,1351.7 C63.9,1350.7 68.1,1346.3 70.2,1345.7 C72.3,1345.0 73.6,1346.3 75.2,1347.7 C76.9,1349.0 78.3,1353.4 80.3,1353.8 C82.3,1354.1 85.4,1351.4 87.4,1349.7 C89.4,1348.0 90.8,1347.4 92.4,1343.6 C94.1,1339.9 95.8,1328.5 97.5,1327.5 C99.2,1326.4 100.9,1333.2 102.6,1337.6 C104.2,1342.0 105.8,1349.7 107.6,1353.8 C109.5,1357.8 111.7,1358.1 113.7,1361.9 C115.7,1365.6 117.9,1372.0 119.8,1376.0 C121.6,1380.1 123.0,1384.5 124.8,1386.1 C126.7,1387.8 129.0,1387.8 130.9,1386.1 C132.7,1384.5 133.8,1378.0 136.0,1376.0 C138.1,1374.0 141.0,1374.7 144.0,1374.0 C147.1,1373.3 151.5,1373.7 154.2,1372.0 C156.9,1370.3 158.4,1366.1 160.2,1363.9 C162.1,1361.7 163.8,1358.5 165.3,1358.8 C166.8,1359.2 168.2,1363.4 169.3,1365.9 C170.5,1368.4 171.2,1374.3 172.4,1374.0 C173.6,1373.7 174.7,1366.1 176.4,1363.9 C178.1,1361.7 180.5,1361.2 182.5,1360.8 C184.5,1360.5 186.5,1362.5 188.6,1361.9 C190.6,1361.2 192.6,1357.8 194.6,1356.8 C196.7,1355.8 199.0,1357.3 200.7,1355.8 C202.4,1354.3 203.2,1348.4 204.8,1347.7 C206.3,1347.0 208.3,1353.8 209.8,1351.7 C211.4,1349.7 212.6,1337.6 214.1,1335.5 C215.6,1333.5 217.4,1336.9 218.9,1339.6 C220.4,1342.3 221.8,1348.2 223.2,1351.7 C224.6,1355.3 225.2,1360.2 227.2,1360.8 C229.3,1361.5 233.0,1359.0 235.3,1355.8 C237.7,1352.6 239.5,1345.3 241.4,1341.6 C243.3,1337.9 244.8,1335.4 246.5,1333.5 C248.2,1331.7 249.8,1329.8 251.5,1330.5 C253.2,1331.2 254.9,1332.7 256.6,1337.6 C258.3,1342.5 259.8,1354.8 261.6,1359.8 C263.5,1364.9 265.7,1364.7 267.7,1367.9 C269.7,1371.1 271.8,1376.4 273.8,1379.1 C275.8,1381.8 277.8,1383.4 279.9,1384.1 C281.9,1384.8 283.6,1384.5 285.9,1383.1 C288.3,1381.8 292.1,1376.2 294.0,1376.0 C296.0,1375.9 296.5,1379.1 297.7,1382.1 C298.8,1385.1 300.0,1394.6 301.1,1394.2 C302.2,1393.9 303.0,1385.1 304.1,1380.1 C305.3,1375.0 306.5,1367.8 308.2,1363.9 C309.9,1360.0 311.9,1357.8 314.3,1356.8 C316.6,1355.8 320.0,1356.6 322.4,1357.8 C324.7,1359.0 326.6,1361.7 328.4,1363.9 C330.3,1366.1 331.8,1372.3 333.5,1371.0 C335.2,1369.6 336.7,1359.0 338.5,1355.8 C340.4,1352.6 342.6,1353.3 344.6,1351.7 C346.6,1350.2 348.7,1348.0 350.7,1346.7 C352.7,1345.3 354.9,1342.3 356.8,1343.6 C358.6,1345.0 360.1,1355.4 361.8,1354.8 C363.5,1354.1 365.7,1342.1 366.9,1339.6 C368.1,1337.1 368.3,1339.4 369.1,1339.6 C370.0,1339.8 370.9,1339.3 371.9,1340.6 C373.0,1342.0 373.3,1344.5 375.2,1347.7 C377.1,1350.9 380.9,1360.2 383.3,1359.8 C385.6,1359.5 387.0,1349.2 389.4,1345.7 C391.7,1342.1 394.2,1339.8 397.5,1338.6 C400.7,1337.4 405.9,1337.7 408.6,1338.6 C411.3,1339.4 411.8,1339.4 413.6,1343.6 C415.5,1347.9 417.7,1357.8 419.7,1363.9 C421.7,1370.0 423.4,1376.9 425.8,1380.1 C428.1,1383.3 431.7,1382.3 433.9,1383.1 C436.1,1384.0 437.6,1386.8 438.9,1385.1 C440.3,1383.4 440.8,1373.3 442.0,1373.0 C443.2,1372.7 444.3,1382.1 446.0,1383.1 C447.7,1384.1 449.7,1380.6 452.1,1379.1 C454.5,1377.5 458.2,1377.4 460.2,1374.0 C462.2,1370.6 462.7,1362.2 464.2,1358.8 C465.8,1355.4 467.6,1353.8 469.3,1353.8 C471.0,1353.8 472.8,1357.3 474.4,1358.8 C475.9,1360.3 476.7,1361.5 478.4,1362.9 C480.1,1364.2 482.3,1368.6 484.5,1366.9 C486.7,1365.2 489.5,1354.8 491.6,1352.8 C493.6,1350.7 494.8,1353.8 496.6,1354.8 C498.5,1355.8 500.5,1359.7 502.7,1358.8 C504.9,1358.0 507.8,1351.9 509.8,1349.7 C511.8,1347.5 513.3,1348.2 514.8,1345.7 C516.3,1343.1 517.3,1334.2 518.7,1334.5 C520.1,1334.9 521.4,1345.8 523.1,1347.7 C524.9,1349.5 527.0,1344.7 529.2,1345.7 C531.4,1346.7 533.9,1353.6 536.3,1353.8 C538.7,1353.9 541.2,1349.0 543.4,1346.7 C545.6,1344.3 547.3,1342.3 549.5,1339.6 C551.6,1336.9 554.3,1330.5 556.5,1330.5 C558.7,1330.5 560.9,1335.4 562.6,1339.6 C564.3,1343.8 565.1,1351.4 566.7,1355.8 C568.2,1360.2 569.7,1362.4 571.7,1365.9 C573.7,1369.4 576.4,1375.0 578.8,1377.0 C581.2,1379.1 583.7,1377.7 585.9,1378.0 C588.1,1378.4 589.8,1377.9 592.0,1379.1 C594.1,1380.2 596.8,1386.0 599.0,1385.1 C601.2,1384.3 602.9,1376.2 605.1,1374.0 C607.3,1371.8 609.7,1374.7 612.2,1372.0 C614.7,1369.3 618.1,1358.8 620.3,1357.8 C622.5,1356.8 624.0,1362.4 625.3,1365.9 C626.7,1369.4 627.2,1379.9 628.4,1379.1 C629.6,1378.2 630.9,1365.2 632.4,1360.8 C633.9,1356.5 635.8,1353.1 637.5,1352.8 C639.2,1352.4 640.7,1357.5 642.5,1358.8 C644.4,1360.2 646.6,1361.4 648.6,1360.8 C650.6,1360.3 652.5,1358.5 654.7,1355.8 C656.9,1353.1 659.8,1346.0 661.8,1344.7 C663.8,1343.3 665.6,1346.3 666.8,1347.7 C668.0,1349.0 668.4,1351.7 669.1,1352.8 C669.7,1353.8 669.9,1354.6 670.9,1353.8 C671.9,1352.9 674.1,1348.9 675.1,1347.7 C676.2,1346.5 675.9,1346.0 677.0,1346.7 C678.0,1347.4 679.3,1350.4 681.2,1351.7 C683.1,1353.1 686.1,1355.1 688.3,1354.8 C690.5,1354.4 692.5,1351.9 694.4,1349.7 C696.2,1347.5 697.7,1340.6 699.4,1341.6 C701.1,1342.6 703.0,1358.0 704.5,1355.8 C706.0,1353.6 707.0,1330.5 708.5,1328.5 C710.1,1326.4 711.9,1338.9 713.6,1343.6 C715.3,1348.4 717.0,1354.6 718.7,1356.8 C720.3,1359.0 722.2,1356.1 723.7,1356.8 C725.2,1357.5 726.4,1356.1 727.8,1360.8 C729.1,1365.6 730.3,1380.7 731.8,1385.1 C733.3,1389.5 735.0,1387.7 736.9,1387.2 C738.7,1386.6 741.1,1381.9 742.9,1382.1 C744.8,1382.3 746.5,1386.6 748.0,1388.2 C749.5,1389.7 750.5,1391.7 752.0,1391.2 C753.6,1390.7 755.3,1387.0 757.1,1385.1 C759.0,1383.3 761.3,1382.4 763.2,1380.1 C765.0,1377.7 766.6,1374.0 768.2,1371.0 C769.9,1367.9 771.3,1362.2 773.3,1361.9 C775.3,1361.5 778.5,1368.9 780.4,1368.9 C782.2,1368.9 782.4,1362.7 784.4,1361.9 C786.5,1361.0 790.5,1363.5 792.5,1363.9 C794.5,1364.2 794.9,1365.7 796.6,1363.9 C798.3,1362.0 800.6,1354.1 802.6,1352.8 C804.7,1351.4 806.9,1354.8 808.7,1355.8 C810.6,1356.8 812.1,1360.8 813.8,1358.8 C815.5,1356.8 817.3,1348.5 818.8,1343.6 C820.3,1338.8 821.2,1330.2 822.7,1329.5 C824.2,1328.8 826.0,1335.2 827.9,1339.6 C829.9,1344.0 832.3,1351.6 834.2,1355.8 C836.1,1360.0 837.4,1366.4 839.3,1364.9 C841.1,1363.4 843.3,1348.5 845.4,1346.7 C847.4,1344.8 849.4,1353.3 851.4,1353.8 C853.5,1354.3 855.6,1351.1 857.5,1349.7 C859.4,1348.4 861.2,1348.4 862.6,1345.7 C863.9,1343.0 864.2,1332.8 865.6,1333.5 C866.9,1334.2 869.0,1345.7 870.7,1349.7 C872.3,1353.8 874.2,1354.1 875.7,1357.8 C877.2,1361.5 878.4,1365.6 879.8,1372.0 C881.1,1378.4 882.3,1393.9 883.8,1396.3 C885.3,1398.6 887.0,1386.5 888.9,1386.1 C890.7,1385.8 893.4,1396.9 894.9,1394.2 C896.5,1391.5 896.5,1372.5 898.0,1370.0 C899.5,1367.4 902.0,1378.2 904.0,1379.1 C906.1,1379.9 908.1,1375.3 910.1,1375.0 C912.1,1374.7 914.5,1378.6 916.2,1377.0 C917.9,1375.5 918.7,1369.1 920.2,1365.9 C921.8,1362.7 923.3,1358.1 925.3,1357.8 C927.3,1357.5 929.9,1363.9 932.4,1363.9 C934.9,1363.9 938.1,1358.1 940.5,1357.8 C942.8,1357.5 944.5,1362.9 946.5,1361.9 C948.6,1360.8 950.6,1353.6 952.6,1351.7 C954.6,1349.9 956.7,1353.8 958.7,1350.7 C960.7,1347.7 962.7,1336.4 964.8,1333.5 C966.8,1330.7 969.1,1333.0 970.8,1333.5 C972.6,1334.0 973.5,1334.5 975.1,1336.6 C976.6,1338.6 978.3,1346.2 980.2,1345.7 C982.0,1345.2 984.4,1333.0 986.2,1333.5 C988.1,1334.0 989.4,1345.7 991.3,1348.7 C993.1,1351.7 995.3,1350.2 997.4,1351.7 C999.4,1353.3 1001.6,1358.1 1003.4,1357.8 C1005.3,1357.5 1006.6,1353.3 1008.5,1349.7 C1010.3,1346.2 1012.5,1338.2 1014.6,1336.6 C1016.6,1334.9 1018.8,1336.7 1020.6,1339.6 C1022.5,1342.5 1024.2,1347.5 1025.7,1353.8 C1027.2,1360.0 1028.1,1373.8 1029.7,1377.0 C1031.4,1380.2 1033.8,1370.8 1035.8,1373.0 C1037.8,1375.2 1040.0,1389.7 1041.9,1390.2 C1043.7,1390.7 1045.6,1380.1 1046.9,1376.0 C1048.3,1372.0 1048.5,1365.9 1050.0,1365.9 C1051.5,1365.9 1053.7,1374.8 1056.0,1376.0 C1058.4,1377.2 1061.8,1374.2 1064.1,1373.0 C1066.5,1371.8 1068.5,1370.6 1070.2,1368.9 C1071.9,1367.3 1072.7,1363.4 1074.3,1362.9 C1075.8,1362.4 1077.3,1364.0 1079.3,1365.9 C1081.3,1367.8 1084.5,1374.2 1086.4,1374.0 C1088.3,1373.8 1089.1,1368.4 1090.5,1364.9 C1091.8,1361.4 1092.8,1354.3 1094.5,1352.8 C1096.2,1351.2 1098.5,1356.1 1100.6,1355.8 C1102.6,1355.4 1104.6,1351.1 1106.6,1350.7 C1108.7,1350.4 1110.7,1353.8 1112.7,1353.8 C1114.7,1353.8 1117.1,1352.9 1118.8,1350.7 C1120.5,1348.5 1122.0,1342.3 1122.8,1340.6 C1123.7,1338.9 1123.2,1340.4 1124.1,1340.6 C1124.9,1340.8 1126.9,1341.1 1127.9,1341.6 C1128.9,1342.1 1129.3,1343.6 1130.1,1343.6 C1131.0,1343.6 1132.3,1342.0 1133.0,1341.6 C1133.6,1341.3 1133.1,1339.1 1134.2,1341.6 C1135.2,1344.1 1137.6,1356.0 1139.2,1356.8 C1140.9,1357.6 1142.6,1346.8 1144.3,1346.7 C1146.0,1346.5 1147.5,1355.4 1149.4,1355.8 C1151.2,1356.1 1153.4,1351.2 1155.4,1348.7 C1157.5,1346.2 1159.5,1342.0 1161.5,1340.6 C1163.5,1339.3 1165.7,1340.1 1167.6,1340.6 C1169.4,1341.1 1170.9,1340.9 1172.6,1343.6 C1174.3,1346.3 1175.8,1353.1 1177.7,1356.8 C1179.5,1360.5 1181.9,1362.4 1183.8,1365.9 C1185.6,1369.4 1187.1,1372.1 1188.8,1378.0 C1190.5,1384.0 1192.2,1401.3 1193.9,1401.3 C1195.6,1401.3 1197.3,1381.4 1198.9,1378.0 C1200.6,1374.7 1202.1,1381.4 1204.0,1381.1 C1205.9,1380.7 1208.0,1376.9 1210.1,1376.0 C1212.1,1375.2 1214.0,1376.0 1216.1,1376.0 C1218.3,1376.0 1221.0,1377.7 1223.2,1376.0 C1225.4,1374.3 1227.4,1367.9 1229.3,1365.9 C1231.2,1363.9 1232.5,1364.7 1234.4,1363.9 C1236.2,1363.0 1238.4,1362.4 1240.4,1360.8 C1242.5,1359.3 1244.5,1354.8 1246.5,1354.8 C1248.5,1354.8 1250.7,1359.5 1252.6,1360.8 C1254.4,1362.2 1255.9,1364.0 1257.6,1362.9 C1259.3,1361.7 1260.7,1355.4 1262.7,1353.8 C1264.7,1352.1 1267.6,1355.6 1269.8,1352.8 C1272.0,1349.9 1273.8,1338.4 1275.8,1336.6 C1277.9,1334.7 1280.2,1339.9 1282.1,1341.6 C1284.0,1343.3 1285.5,1344.8 1287.2,1346.7 C1288.9,1348.5 1290.4,1352.1 1292.2,1352.8 C1294.1,1353.4 1296.3,1351.1 1298.3,1350.7 C1300.3,1350.4 1302.5,1351.6 1304.4,1350.7 C1306.2,1349.9 1307.9,1348.5 1309.5,1345.7 C1311.0,1342.8 1312.2,1334.0 1313.5,1333.5 C1314.8,1333.0 1316.2,1342.0 1317.5,1342.6 C1318.9,1343.3 1320.2,1336.2 1321.6,1337.6 C1322.9,1338.9 1324.5,1345.3 1325.6,1350.7 C1326.8,1356.1 1327.3,1368.3 1328.7,1370.0 C1330.0,1371.6 1332.1,1360.5 1333.7,1360.8 C1335.4,1361.2 1336.8,1367.8 1338.8,1372.0 C1340.8,1376.2 1343.9,1385.3 1345.9,1386.1 C1347.9,1387.0 1348.9,1378.2 1350.9,1377.0 C1353.0,1375.9 1355.7,1381.6 1358.0,1379.1 C1360.4,1376.5 1362.9,1362.5 1365.1,1361.9 C1367.3,1361.2 1369.3,1374.2 1371.2,1375.0 C1373.0,1375.9 1374.4,1370.1 1376.2,1366.9 C1378.1,1363.7 1380.5,1356.6 1382.3,1355.8 C1384.2,1354.9 1385.7,1360.2 1387.4,1361.9 C1389.1,1363.5 1390.7,1366.6 1392.4,1365.9 C1394.1,1365.2 1395.6,1357.8 1397.5,1357.8 C1399.3,1357.8 1401.7,1366.6 1403.6,1365.9 C1405.4,1365.2 1406.8,1356.3 1408.6,1353.8 C1410.5,1351.2 1412.7,1350.9 1414.7,1350.7 C1416.7,1350.6 1418.7,1354.6 1420.8,1352.8 C1422.8,1350.9 1425.0,1340.4 1427.0,1339.6 C1429.1,1338.8 1431.8,1346.0 1433.1,1347.7 C1434.4,1349.4 1433.4,1348.0 1434.9,1349.7 C1436.4,1351.4 1439.8,1357.5 1442.2,1357.8 C1444.6,1358.1 1446.9,1353.6 1449.3,1351.7 C1451.7,1349.9 1454.4,1348.4 1456.4,1346.7 C1458.4,1345.0 1459.8,1344.1 1461.5,1341.6 C1463.1,1339.1 1465.0,1332.5 1466.5,1331.5 C1468.0,1330.5 1469.0,1334.7 1470.6,1335.5 C1472.1,1336.4 1474.1,1333.9 1475.6,1336.6 C1477.1,1339.3 1478.3,1346.8 1479.7,1351.7 C1481.0,1356.6 1482.0,1361.7 1483.7,1365.9 C1485.4,1370.1 1487.8,1374.7 1489.8,1377.0 C1491.8,1379.4 1494.2,1378.9 1495.9,1380.1 C1497.5,1381.3 1498.7,1381.8 1499.9,1384.1 C1501.1,1386.5 1501.8,1396.3 1502.9,1394.2 C1504.1,1392.2 1505.5,1375.7 1507.0,1372.0 C1508.5,1368.3 1510.0,1372.8 1512.0,1372.0 C1514.1,1371.1 1516.8,1368.6 1519.1,1366.9 C1521.5,1365.2 1524.2,1362.4 1526.2,1361.9 C1528.2,1361.4 1529.6,1362.5 1531.3,1363.9 C1533.0,1365.2 1534.8,1370.8 1536.3,1370.0 C1537.9,1369.1 1538.9,1356.6 1540.4,1358.8 C1541.9,1361.0 1543.8,1380.9 1545.4,1383.1 C1547.1,1385.3 1548.6,1376.5 1550.5,1372.0 C1552.4,1367.4 1554.5,1359.2 1556.6,1355.8 C1558.6,1352.4 1560.6,1352.6 1562.6,1351.7 C1564.7,1350.9 1566.9,1350.4 1568.7,1350.7 C1570.6,1351.1 1572.1,1355.6 1573.8,1353.8 C1575.5,1351.9 1578.0,1342.0 1578.8,1339.6" fill="none" stroke="#f7f46c" stroke-width="3.3" stroke-linejoin="round"/>
<path d="M62.7,1279.9 C63.4,1280.2 65.6,1280.4 67.1,1281.9 C68.7,1283.4 70.5,1289.8 72.2,1289.0 C73.9,1288.2 75.4,1279.6 77.3,1276.9 C79.1,1274.2 81.3,1273.3 83.3,1272.8 C85.4,1272.3 87.5,1273.1 89.4,1273.8 C91.3,1274.5 92.8,1276.2 94.5,1276.9 C96.2,1277.5 97.7,1279.6 99.5,1277.9 C101.4,1276.2 103.2,1270.1 105.6,1266.7 C108.0,1263.4 111.3,1260.3 113.7,1257.6 C116.1,1254.9 117.7,1253.2 119.8,1250.5 C121.8,1247.8 124.0,1242.8 125.8,1241.4 C127.7,1240.1 129.5,1240.4 130.9,1242.5 C132.2,1244.5 132.9,1252.6 133.9,1253.6 C134.9,1254.6 135.6,1247.3 137.0,1248.5 C138.3,1249.7 140.5,1258.3 142.0,1260.7 C143.5,1263.0 144.7,1263.0 146.1,1262.7 C147.4,1262.4 148.8,1260.7 150.1,1258.6 C151.5,1256.6 152.5,1252.1 154.2,1250.5 C155.9,1249.0 158.2,1250.2 160.2,1249.5 C162.3,1248.9 164.4,1247.8 166.3,1246.5 C168.3,1245.2 170.0,1241.3 172.0,1241.4 C174.0,1241.6 176.0,1245.3 178.5,1247.5 C180.9,1249.7 184.0,1251.7 186.5,1254.6 C189.1,1257.5 191.6,1262.5 193.6,1264.7 C195.7,1266.9 196.8,1265.2 198.7,1267.8 C200.5,1270.3 202.9,1279.0 204.8,1279.9 C206.6,1280.7 208.3,1269.3 209.8,1272.8 C211.3,1276.4 212.2,1298.8 213.9,1301.1 C215.6,1303.5 218.7,1289.3 219.9,1287.0 C221.2,1284.6 220.1,1289.3 221.2,1287.0 C222.2,1284.6 223.9,1275.5 226.2,1272.8 C228.6,1270.1 233.0,1270.1 235.3,1270.8 C237.7,1271.5 238.5,1274.8 240.4,1276.9 C242.2,1278.9 244.6,1281.6 246.5,1282.9 C248.3,1284.3 249.8,1286.3 251.5,1285.0 C253.2,1283.6 254.6,1278.9 256.6,1274.8 C258.6,1270.8 261.5,1264.0 263.7,1260.7 C265.9,1257.3 267.7,1256.6 269.7,1254.6 C271.8,1252.6 273.8,1249.9 275.8,1248.5 C277.8,1247.2 280.2,1247.2 281.9,1246.5 C283.6,1245.8 284.2,1243.8 285.9,1244.5 C287.6,1245.2 290.3,1249.0 292.0,1250.5 C293.7,1252.1 294.5,1253.8 296.0,1253.6 C297.6,1253.4 299.1,1249.0 301.1,1249.5 C303.1,1250.0 305.7,1255.8 308.2,1256.6 C310.7,1257.5 313.6,1255.4 316.3,1254.6 C319.0,1253.8 322.4,1252.2 324.4,1251.6 C326.4,1250.9 326.9,1251.1 328.4,1250.5 C329.9,1250.0 331.5,1247.3 333.5,1248.5 C335.5,1249.7 338.5,1255.3 340.6,1257.6 C342.6,1260.0 344.1,1260.2 345.6,1262.7 C347.1,1265.2 348.5,1269.4 349.7,1272.8 C350.9,1276.2 351.5,1280.1 352.7,1282.9 C353.9,1285.8 355.2,1291.4 356.8,1290.0 C358.3,1288.7 360.3,1275.3 361.8,1274.8 C363.3,1274.3 365.0,1284.3 365.9,1287.0 C366.7,1289.7 366.6,1290.3 367.1,1291.0 C367.6,1291.7 367.7,1292.7 368.9,1291.0 C370.1,1289.3 372.0,1284.3 374.2,1280.9 C376.4,1277.5 379.2,1271.6 382.3,1270.8 C385.3,1269.9 389.4,1275.2 392.4,1275.8 C395.4,1276.5 397.6,1275.8 400.5,1274.8 C403.4,1273.8 406.7,1271.6 409.6,1269.8 C412.5,1267.9 415.7,1266.4 417.7,1263.7 C419.7,1261.0 420.1,1256.8 421.7,1253.6 C423.4,1250.4 425.1,1246.7 427.8,1244.5 C430.5,1242.3 435.6,1239.1 437.9,1240.4 C440.3,1241.8 440.3,1250.2 442.0,1252.6 C443.7,1254.9 446.2,1253.6 448.0,1254.6 C449.9,1255.6 451.4,1259.0 453.1,1258.6 C454.8,1258.3 456.3,1252.7 458.2,1252.6 C460.0,1252.4 462.2,1256.1 464.2,1257.6 C466.3,1259.1 468.1,1263.4 470.3,1261.7 C472.5,1260.0 474.9,1249.7 477.4,1247.5 C479.9,1245.3 483.0,1246.3 485.5,1248.5 C488.0,1250.7 490.0,1257.8 492.6,1260.7 C495.1,1263.5 498.0,1263.2 500.7,1265.7 C503.4,1268.3 506.4,1272.1 508.8,1275.8 C511.1,1279.6 513.2,1282.3 514.8,1288.0 C516.5,1293.7 517.1,1311.4 518.7,1310.2 C520.2,1309.1 522.2,1284.1 524.2,1280.9 C526.1,1277.7 528.4,1292.5 530.2,1291.0 C532.1,1289.5 533.4,1273.8 535.3,1271.8 C537.1,1269.8 539.3,1278.4 541.4,1278.9 C543.4,1279.4 545.6,1274.2 547.4,1274.8 C549.3,1275.5 550.8,1282.8 552.5,1282.9 C554.2,1283.1 555.5,1277.9 557.5,1275.8 C559.6,1273.8 562.4,1274.3 564.6,1270.8 C566.8,1267.2 568.7,1258.3 570.7,1254.6 C572.7,1250.9 574.8,1249.5 576.8,1248.5 C578.8,1247.5 581.0,1247.3 582.8,1248.5 C584.7,1249.7 586.6,1253.4 587.9,1255.6 C589.3,1257.8 589.9,1261.7 590.9,1261.7 C592.0,1261.7 592.6,1257.6 594.0,1255.6 C595.3,1253.6 597.3,1249.5 599.0,1249.5 C600.7,1249.5 602.2,1253.8 604.1,1255.6 C606.0,1257.5 608.1,1260.7 610.2,1260.7 C612.2,1260.7 614.2,1256.6 616.2,1255.6 C618.3,1254.6 620.3,1255.9 622.3,1254.6 C624.3,1253.2 626.7,1247.5 628.4,1247.5 C630.1,1247.5 630.9,1252.4 632.4,1254.6 C633.9,1256.8 635.6,1260.2 637.5,1260.7 C639.3,1261.2 641.7,1256.3 643.6,1257.6 C645.4,1259.0 646.8,1266.2 648.6,1268.8 C650.5,1271.3 653.2,1271.1 654.7,1272.8 C656.2,1274.5 656.5,1276.5 657.7,1278.9 C658.9,1281.2 660.3,1286.1 661.8,1287.0 C663.3,1287.8 665.4,1286.3 666.8,1283.9 C668.2,1281.6 669.2,1274.7 670.1,1272.8 C670.9,1271.0 670.7,1272.5 671.9,1272.8 C673.0,1273.1 675.9,1274.5 677.0,1274.8 C678.0,1275.2 676.5,1275.8 678.2,1274.8 C679.9,1273.8 684.4,1269.3 687.3,1268.8 C690.2,1268.3 692.5,1270.4 695.4,1271.8 C698.2,1273.1 702.3,1276.0 704.5,1276.9 C706.7,1277.7 706.7,1278.7 708.5,1276.9 C710.4,1275.0 713.6,1268.8 715.6,1265.7 C717.6,1262.7 719.0,1260.5 720.7,1258.6 C722.4,1256.8 723.9,1257.0 725.7,1254.6 C727.6,1252.2 729.6,1246.8 731.8,1244.5 C734.0,1242.1 736.5,1240.4 738.9,1240.4 C741.3,1240.4 744.1,1244.5 746.0,1244.5 C747.8,1244.5 747.7,1240.8 750.0,1240.4 C752.4,1240.1 757.3,1242.3 760.1,1242.5 C763.0,1242.6 764.5,1241.1 767.2,1241.4 C769.9,1241.8 773.5,1243.3 776.3,1244.5 C779.2,1245.7 781.7,1247.5 784.4,1248.5 C787.1,1249.5 789.8,1249.2 792.5,1250.5 C795.2,1251.9 798.3,1254.8 800.6,1256.6 C803.0,1258.5 804.7,1260.8 806.7,1261.7 C808.7,1262.5 811.1,1258.1 812.8,1261.7 C814.4,1265.2 815.3,1273.7 816.8,1282.9 C818.3,1292.2 820.9,1311.6 821.9,1317.3 C822.8,1323.1 821.8,1322.4 822.7,1317.3 C823.5,1312.3 826.0,1292.7 826.9,1287.0 C827.8,1281.2 826.9,1287.3 828.2,1282.9 C829.4,1278.5 832.4,1263.7 834.2,1260.7 C836.1,1257.6 837.4,1263.4 839.3,1264.7 C841.1,1266.1 843.2,1268.4 845.4,1268.8 C847.5,1269.1 850.1,1267.9 852.4,1266.7 C854.8,1265.6 857.2,1261.2 859.5,1261.7 C861.9,1262.2 864.4,1269.1 866.6,1269.8 C868.8,1270.4 871.0,1267.9 872.7,1265.7 C874.4,1263.5 875.4,1261.2 876.7,1256.6 C878.1,1252.1 879.6,1241.8 880.8,1238.4 C882.0,1235.0 882.5,1234.7 883.8,1236.4 C885.2,1238.1 887.0,1247.7 888.9,1248.5 C890.7,1249.4 892.7,1241.9 894.9,1241.4 C897.1,1240.9 898.8,1244.6 902.0,1245.5 C905.2,1246.3 910.1,1245.2 914.2,1246.5 C918.2,1247.8 922.9,1253.1 926.3,1253.6 C929.7,1254.1 931.7,1249.9 934.4,1249.5 C937.1,1249.2 940.1,1251.1 942.5,1251.6 C944.9,1252.1 946.7,1251.1 948.6,1252.6 C950.4,1254.1 951.9,1258.1 953.6,1260.7 C955.3,1263.2 957.2,1263.7 958.7,1267.8 C960.2,1271.8 961.4,1278.4 962.7,1285.0 C964.1,1291.5 965.4,1299.8 966.8,1307.2 C968.1,1314.6 969.4,1329.5 970.8,1329.5 C972.2,1329.5 973.5,1314.3 975.1,1307.2 C976.6,1300.1 978.3,1286.5 980.2,1287.0 C982.0,1287.5 984.2,1311.9 986.2,1310.2 C988.2,1308.6 990.1,1283.8 992.3,1276.9 C994.5,1269.9 997.2,1271.1 999.4,1268.8 C1001.6,1266.4 1003.6,1263.7 1005.5,1262.7 C1007.3,1261.7 1008.5,1261.2 1010.5,1262.7 C1012.5,1264.2 1015.4,1270.8 1017.6,1271.8 C1019.8,1272.8 1021.6,1273.1 1023.7,1268.8 C1025.7,1264.4 1027.7,1249.0 1029.7,1245.5 C1031.8,1241.9 1034.0,1247.5 1035.8,1247.5 C1037.7,1247.5 1038.8,1245.2 1040.9,1245.5 C1042.9,1245.8 1045.8,1249.5 1048.0,1249.5 C1050.1,1249.5 1052.0,1246.7 1054.0,1245.5 C1056.0,1244.3 1057.4,1242.1 1060.1,1242.5 C1062.8,1242.8 1067.2,1247.0 1070.2,1247.5 C1073.2,1248.0 1075.3,1246.6 1078.3,1245.5 C1081.3,1244.4 1085.7,1240.3 1088.4,1240.8 C1091.1,1241.3 1091.8,1245.7 1094.5,1248.5 C1097.2,1251.3 1101.6,1255.3 1104.6,1257.6 C1107.7,1260.0 1110.5,1261.3 1112.7,1262.7 C1114.9,1264.0 1115.9,1262.7 1117.8,1265.7 C1119.6,1268.8 1121.8,1279.0 1123.8,1280.9 C1125.9,1282.8 1128.7,1277.9 1129.9,1276.9 C1131.1,1275.8 1129.8,1276.9 1131.1,1274.8 C1132.5,1272.8 1136.0,1265.1 1138.2,1264.7 C1140.4,1264.4 1142.4,1272.1 1144.3,1272.8 C1146.2,1273.5 1147.3,1268.6 1149.4,1268.8 C1151.4,1268.9 1154.4,1273.5 1156.4,1273.8 C1158.5,1274.2 1159.5,1272.1 1161.5,1270.8 C1163.5,1269.4 1166.2,1267.4 1168.6,1265.7 C1170.9,1264.0 1173.6,1262.2 1175.7,1260.7 C1177.7,1259.1 1179.0,1258.5 1180.7,1256.6 C1182.4,1254.8 1184.1,1251.7 1185.8,1249.5 C1187.5,1247.3 1189.0,1244.6 1190.8,1243.5 C1192.7,1242.3 1195.1,1241.8 1196.9,1242.5 C1198.8,1243.1 1200.1,1247.3 1202.0,1247.5 C1203.8,1247.7 1206.0,1244.0 1208.0,1243.5 C1210.1,1243.0 1212.3,1243.6 1214.1,1244.5 C1216.0,1245.3 1217.3,1249.4 1219.2,1248.5 C1221.0,1247.7 1223.2,1239.6 1225.2,1239.4 C1227.3,1239.2 1229.0,1246.7 1231.3,1247.5 C1233.7,1248.4 1236.9,1244.6 1239.4,1244.5 C1241.9,1244.3 1244.1,1245.5 1246.5,1246.5 C1248.9,1247.5 1251.4,1249.5 1253.6,1250.5 C1255.8,1251.6 1257.8,1251.2 1259.7,1252.6 C1261.5,1253.9 1263.0,1256.1 1264.7,1258.6 C1266.4,1261.2 1268.1,1264.4 1269.8,1267.8 C1271.5,1271.1 1273.3,1275.2 1274.8,1278.9 C1276.4,1282.6 1277.2,1290.2 1278.9,1290.0 C1280.6,1289.8 1283.1,1280.4 1285.0,1277.9 C1286.8,1275.3 1288.2,1275.3 1290.2,1274.8 C1292.3,1274.3 1294.8,1275.5 1297.3,1274.8 C1299.8,1274.2 1303.0,1272.1 1305.4,1270.8 C1307.8,1269.4 1309.1,1267.6 1311.5,1266.7 C1313.8,1265.9 1317.2,1267.2 1319.6,1265.7 C1321.9,1264.2 1323.6,1260.3 1325.6,1257.6 C1327.7,1254.9 1329.7,1251.7 1331.7,1249.5 C1333.7,1247.3 1335.8,1245.5 1337.8,1244.5 C1339.8,1243.5 1342.0,1243.1 1343.9,1243.5 C1345.7,1243.8 1347.6,1245.3 1348.9,1246.5 C1350.3,1247.7 1350.8,1251.7 1352.0,1250.5 C1353.1,1249.4 1354.7,1240.9 1356.0,1239.4 C1357.3,1237.9 1358.4,1238.1 1360.0,1241.4 C1361.7,1244.8 1364.3,1258.8 1366.1,1259.7 C1368.0,1260.5 1369.5,1249.2 1371.2,1246.5 C1372.9,1243.8 1374.2,1243.0 1376.2,1243.5 C1378.3,1244.0 1380.6,1249.0 1383.3,1249.5 C1386.0,1250.0 1389.6,1246.7 1392.4,1246.5 C1395.3,1246.3 1398.5,1248.4 1400.5,1248.5 C1402.5,1248.7 1403.2,1246.5 1404.6,1247.5 C1405.9,1248.5 1406.9,1251.7 1408.6,1254.6 C1410.3,1257.5 1412.5,1261.8 1414.7,1264.7 C1416.9,1267.6 1419.9,1269.1 1421.8,1271.8 C1423.6,1274.5 1424.9,1278.5 1425.8,1280.9 C1426.8,1283.3 1426.9,1285.0 1427.5,1286.0 C1428.0,1287.0 1427.9,1288.2 1428.9,1287.0 C1429.8,1285.8 1432.0,1280.7 1432.9,1278.9 C1433.8,1277.0 1432.6,1278.0 1434.1,1275.8 C1435.7,1273.7 1439.9,1266.4 1442.2,1265.7 C1444.6,1265.1 1445.9,1270.8 1448.3,1271.8 C1450.7,1272.8 1453.4,1271.5 1456.4,1271.8 C1459.4,1272.1 1464.0,1274.3 1466.5,1273.8 C1469.0,1273.3 1469.7,1270.4 1471.6,1268.8 C1473.4,1267.1 1475.3,1267.2 1477.6,1263.7 C1480.0,1260.2 1482.9,1250.0 1485.7,1247.5 C1488.6,1245.0 1492.0,1250.2 1494.8,1248.5 C1497.7,1246.8 1500.7,1238.2 1502.9,1237.4 C1505.1,1236.5 1506.5,1242.3 1508.0,1243.5 C1509.5,1244.6 1510.4,1243.3 1512.0,1244.5 C1513.7,1245.7 1516.3,1249.0 1518.1,1250.5 C1520.0,1252.1 1521.3,1254.1 1523.2,1253.6 C1525.0,1253.1 1527.2,1249.0 1529.2,1247.5 C1531.3,1246.0 1533.5,1244.5 1535.3,1244.5 C1537.2,1244.5 1538.7,1248.6 1540.4,1247.5 C1542.1,1246.4 1543.6,1238.7 1545.4,1238.0 C1547.3,1237.3 1549.7,1241.5 1551.5,1243.5 C1553.4,1245.4 1554.7,1247.8 1556.6,1249.5 C1558.4,1251.2 1560.8,1251.7 1562.6,1253.6 C1564.5,1255.4 1566.0,1259.3 1567.7,1260.7 C1569.4,1262.0 1571.2,1259.3 1572.8,1261.7 C1574.3,1264.0 1575.6,1270.6 1576.8,1274.8 C1578.0,1279.0 1579.3,1285.0 1579.8,1287.0" fill="none" stroke="#731d70" stroke-width="2.5" stroke-linejoin="round"/>
<path d="M62.7,1391.2 C64.4,1390.5 69.4,1387.7 73.2,1387.2 C77.0,1386.6 81.3,1388.3 85.4,1388.2 C89.4,1388.1 93.5,1386.0 97.5,1386.5 C101.5,1387.1 105.6,1389.6 109.6,1391.2 C113.7,1392.8 117.4,1394.9 121.8,1396.3 C126.2,1397.6 131.9,1398.6 136.0,1399.3 C140.0,1400.0 142.0,1400.1 146.1,1400.3 C150.1,1400.5 155.9,1400.5 160.2,1400.3 C164.6,1400.1 168.3,1400.1 172.4,1399.3 C176.4,1398.5 179.8,1396.6 184.5,1395.2 C189.2,1393.9 196.0,1391.9 200.7,1391.2 C205.4,1390.5 209.1,1391.1 212.9,1391.2 C216.6,1391.3 219.1,1392.0 223.2,1391.8 C227.3,1391.6 233.0,1390.9 237.4,1390.2 C241.7,1389.5 245.5,1387.8 249.5,1387.8 C253.5,1387.8 257.6,1388.9 261.6,1390.2 C265.7,1391.4 269.4,1393.7 273.8,1395.2 C278.2,1396.8 283.4,1398.1 288.0,1399.3 C292.5,1400.5 296.7,1402.3 301.1,1402.3 C305.5,1402.3 309.7,1400.1 314.3,1399.3 C318.8,1398.5 323.4,1398.3 328.4,1397.3 C333.5,1396.3 339.9,1394.2 344.6,1393.2 C349.3,1392.2 352.7,1391.5 356.8,1391.2 C360.8,1390.9 364.8,1390.9 368.9,1391.2 C373.0,1391.5 376.5,1393.7 381.3,1393.2 C386.0,1392.8 392.4,1388.9 397.5,1388.6 C402.5,1388.2 407.2,1389.9 411.6,1391.2 C416.0,1392.5 419.0,1394.7 423.8,1396.3 C428.5,1397.8 434.2,1399.3 440.0,1400.3 C445.7,1401.3 452.8,1402.7 458.2,1402.3 C463.6,1402.0 467.3,1399.3 472.3,1398.3 C477.4,1397.3 483.1,1397.3 488.5,1396.3 C493.9,1395.2 499.7,1393.6 504.7,1392.2 C509.8,1390.9 514.1,1388.5 518.9,1388.2 C523.6,1387.8 527.8,1390.2 533.3,1390.2 C538.7,1390.2 546.1,1388.0 551.5,1388.2 C556.9,1388.3 560.9,1389.7 565.6,1391.2 C570.4,1392.7 575.4,1395.9 579.8,1397.3 C584.2,1398.6 587.6,1398.5 592.0,1399.3 C596.3,1400.1 601.4,1402.2 606.1,1402.3 C610.8,1402.5 616.2,1400.8 620.3,1400.3 C624.3,1399.8 626.7,1400.1 630.4,1399.3 C634.1,1398.5 638.2,1396.4 642.5,1395.2 C646.9,1394.1 652.0,1392.9 656.7,1392.2 C661.4,1391.5 667.8,1391.4 670.9,1391.2 C674.0,1391.0 671.4,1391.4 675.1,1391.2 C678.9,1391.0 688.0,1390.5 693.4,1390.2 C698.8,1389.9 703.1,1388.8 707.5,1389.2 C711.9,1389.5 715.6,1390.9 719.7,1392.2 C723.7,1393.6 727.1,1395.8 731.8,1397.3 C736.5,1398.8 742.9,1400.5 748.0,1401.3 C753.1,1402.2 757.4,1402.5 762.2,1402.3 C766.9,1402.2 771.6,1401.3 776.3,1400.3 C781.1,1399.4 785.8,1397.7 790.5,1396.7 C795.2,1395.7 800.3,1395.0 804.7,1394.2 C809.1,1393.5 813.7,1392.3 816.8,1392.2 C819.9,1392.1 821.7,1393.7 823.1,1393.8 C824.4,1394.0 822.9,1393.5 824.9,1393.2 C826.9,1393.0 831.2,1392.7 835.2,1392.2 C839.3,1391.8 844.3,1390.9 849.4,1390.6 C854.5,1390.3 861.2,1390.2 865.6,1390.6 C870.0,1391.0 872.7,1391.8 875.7,1393.2 C878.8,1394.7 880.4,1397.9 883.8,1399.3 C887.2,1400.6 891.9,1400.8 896.0,1401.3 C900.0,1401.8 903.4,1402.5 908.1,1402.3 C912.8,1402.2 918.9,1401.2 924.3,1400.3 C929.7,1399.5 935.1,1398.6 940.5,1397.3 C945.9,1395.9 951.3,1393.6 956.7,1392.2 C962.1,1390.9 969.1,1389.4 972.9,1389.2 C976.6,1388.9 976.1,1390.8 979.1,1390.6 C982.2,1390.4 986.6,1388.3 991.3,1388.2 C996.0,1388.0 1002.8,1389.8 1007.5,1389.8 C1012.2,1389.8 1016.2,1387.6 1019.6,1388.2 C1023.0,1388.7 1024.3,1391.5 1027.7,1393.2 C1031.1,1394.9 1035.1,1396.9 1039.9,1398.3 C1044.6,1399.6 1050.7,1401.0 1056.0,1401.3 C1061.4,1401.7 1066.8,1400.9 1072.2,1400.3 C1077.6,1399.7 1083.0,1399.2 1088.4,1397.9 C1093.8,1396.5 1099.2,1393.3 1104.6,1392.2 C1110.0,1391.1 1115.7,1391.4 1120.8,1391.2 C1125.9,1391.0 1130.4,1391.4 1135.2,1391.2 C1139.9,1391.0 1145.0,1390.6 1149.4,1390.2 C1153.7,1389.8 1157.1,1388.3 1161.5,1388.6 C1165.9,1388.8 1171.3,1390.5 1175.7,1391.8 C1180.1,1393.1 1184.4,1394.8 1187.8,1396.3 C1191.2,1397.7 1192.2,1399.5 1195.9,1400.3 C1199.6,1401.2 1205.3,1401.0 1210.1,1401.3 C1214.8,1401.7 1219.5,1402.8 1224.2,1402.3 C1229.0,1401.8 1233.7,1399.6 1238.4,1398.3 C1243.1,1396.9 1247.5,1395.2 1252.6,1394.2 C1257.6,1393.2 1264.0,1392.6 1268.8,1392.2 C1273.5,1391.8 1277.2,1392.3 1280.9,1391.8 C1284.7,1391.3 1286.8,1389.4 1291.2,1389.2 C1295.7,1388.9 1302.4,1390.0 1307.4,1390.2 C1312.5,1390.4 1316.9,1389.3 1321.6,1390.2 C1326.3,1391.0 1330.7,1393.7 1335.8,1395.2 C1340.8,1396.8 1346.6,1398.3 1352.0,1399.3 C1357.3,1400.3 1363.8,1401.2 1368.1,1401.3 C1372.5,1401.5 1374.2,1401.0 1378.3,1400.3 C1382.3,1399.6 1387.4,1398.3 1392.4,1397.3 C1397.5,1396.3 1403.2,1395.4 1408.6,1394.2 C1414.0,1393.1 1419.7,1390.9 1424.8,1390.2 C1429.9,1389.5 1432.7,1390.5 1439.2,1390.2 C1445.6,1389.9 1457.1,1388.0 1463.5,1388.2 C1469.9,1388.3 1473.3,1389.9 1477.6,1391.2 C1482.0,1392.6 1485.4,1394.8 1489.8,1396.3 C1494.2,1397.7 1499.2,1399.2 1504.0,1399.9 C1508.7,1400.6 1513.4,1400.4 1518.1,1400.3 C1522.8,1400.2 1527.9,1399.5 1532.3,1399.3 C1536.7,1399.1 1540.4,1400.1 1544.4,1399.3 C1548.5,1398.5 1552.5,1395.6 1556.6,1394.2 C1560.6,1392.9 1565.0,1391.9 1568.7,1391.2 C1572.4,1390.5 1577.1,1390.4 1578.8,1390.2" fill="none" stroke="#7ce9ee" stroke-width="3.3" stroke-linejoin="round"/>
<text x="1605.5" y="1480.6" font-size="25.5" text-anchor="start" fill="#444444" font-weight="normal" >0</text>
<text x="1605.5" y="1426.0" font-size="25.5" text-anchor="start" fill="#444444" font-weight="normal" >2</text>
<text x="1605.5" y="1368.6" font-size="25.5" text-anchor="start" fill="#444444" font-weight="normal" >4</text>
<text x="1605.5" y="1313.8" font-size="25.5" text-anchor="start" fill="#444444" font-weight="normal" >6</text>
<text x="1605.5" y="1258.8" font-size="25.5" text-anchor="start" fill="#444444" font-weight="normal" >8</text>
<text x="1605.5" y="1201.7" font-size="25.5" text-anchor="start" fill="#444444" font-weight="normal" >10</text>
<text x="62.1" y="1509.5" font-size="25.7" text-anchor="middle" fill="#444444" font-weight="normal" >2010</text>
<text x="214.0" y="1509.5" font-size="25.7" text-anchor="middle" fill="#444444" font-weight="normal" >2011</text>
<text x="365.8" y="1509.5" font-size="25.7" text-anchor="middle" fill="#444444" font-weight="normal" >2012</text>
<text x="518.1" y="1509.5" font-size="25.7" text-anchor="middle" fill="#444444" font-weight="normal" >2013</text>
<text x="670.0" y="1509.5" font-size="25.7" text-anchor="middle" fill="#444444" font-weight="normal" >2014</text>
<text x="821.8" y="1509.5" font-size="25.7" text-anchor="middle" fill="#444444" font-weight="normal" >2015</text>
<text x="973.7" y="1509.5" font-size="25.7" text-anchor="middle" fill="#444444" font-weight="normal" >2016</text>
<text x="1126.0" y="1509.5" font-size="25.7" text-anchor="middle" fill="#444444" font-weight="normal" >2017</text>
<text x="1277.8" y="1509.5" font-size="25.7" text-anchor="middle" fill="#444444" font-weight="normal" >2018</text>
<text x="1429.7" y="1509.5" font-size="25.7" text-anchor="middle" fill="#444444" font-weight="normal" >2019</text>
<text x="822" y="1549.0" font-size="25.2" text-anchor="middle" fill="#2a2a2a" font-weight="normal" >date (year beginning)</text>
<text x="1643" y="1280.6" font-size="24.8" text-anchor="start" fill="#222222" font-weight="normal" >(L/d/m<tspan dy="-10" font-size="14.5">2</tspan><tspan dy="10">),</tspan></text>
<text x="1643" y="1311.6" font-size="24.8" text-anchor="start" fill="#222222" font-weight="normal" >(°C/10),</text>
<text x="1643" y="1342.6" font-size="24.8" text-anchor="start" fill="#222222" font-weight="normal" >(%/10),</text>
<text x="1643" y="1373.6" font-size="24.8" text-anchor="start" fill="#222222" font-weight="normal" >(W/m<tspan dy="-10" font-size="14.5">2</tspan><tspan dy="10">/100)</tspan></text>
</svg>
</body></html>
